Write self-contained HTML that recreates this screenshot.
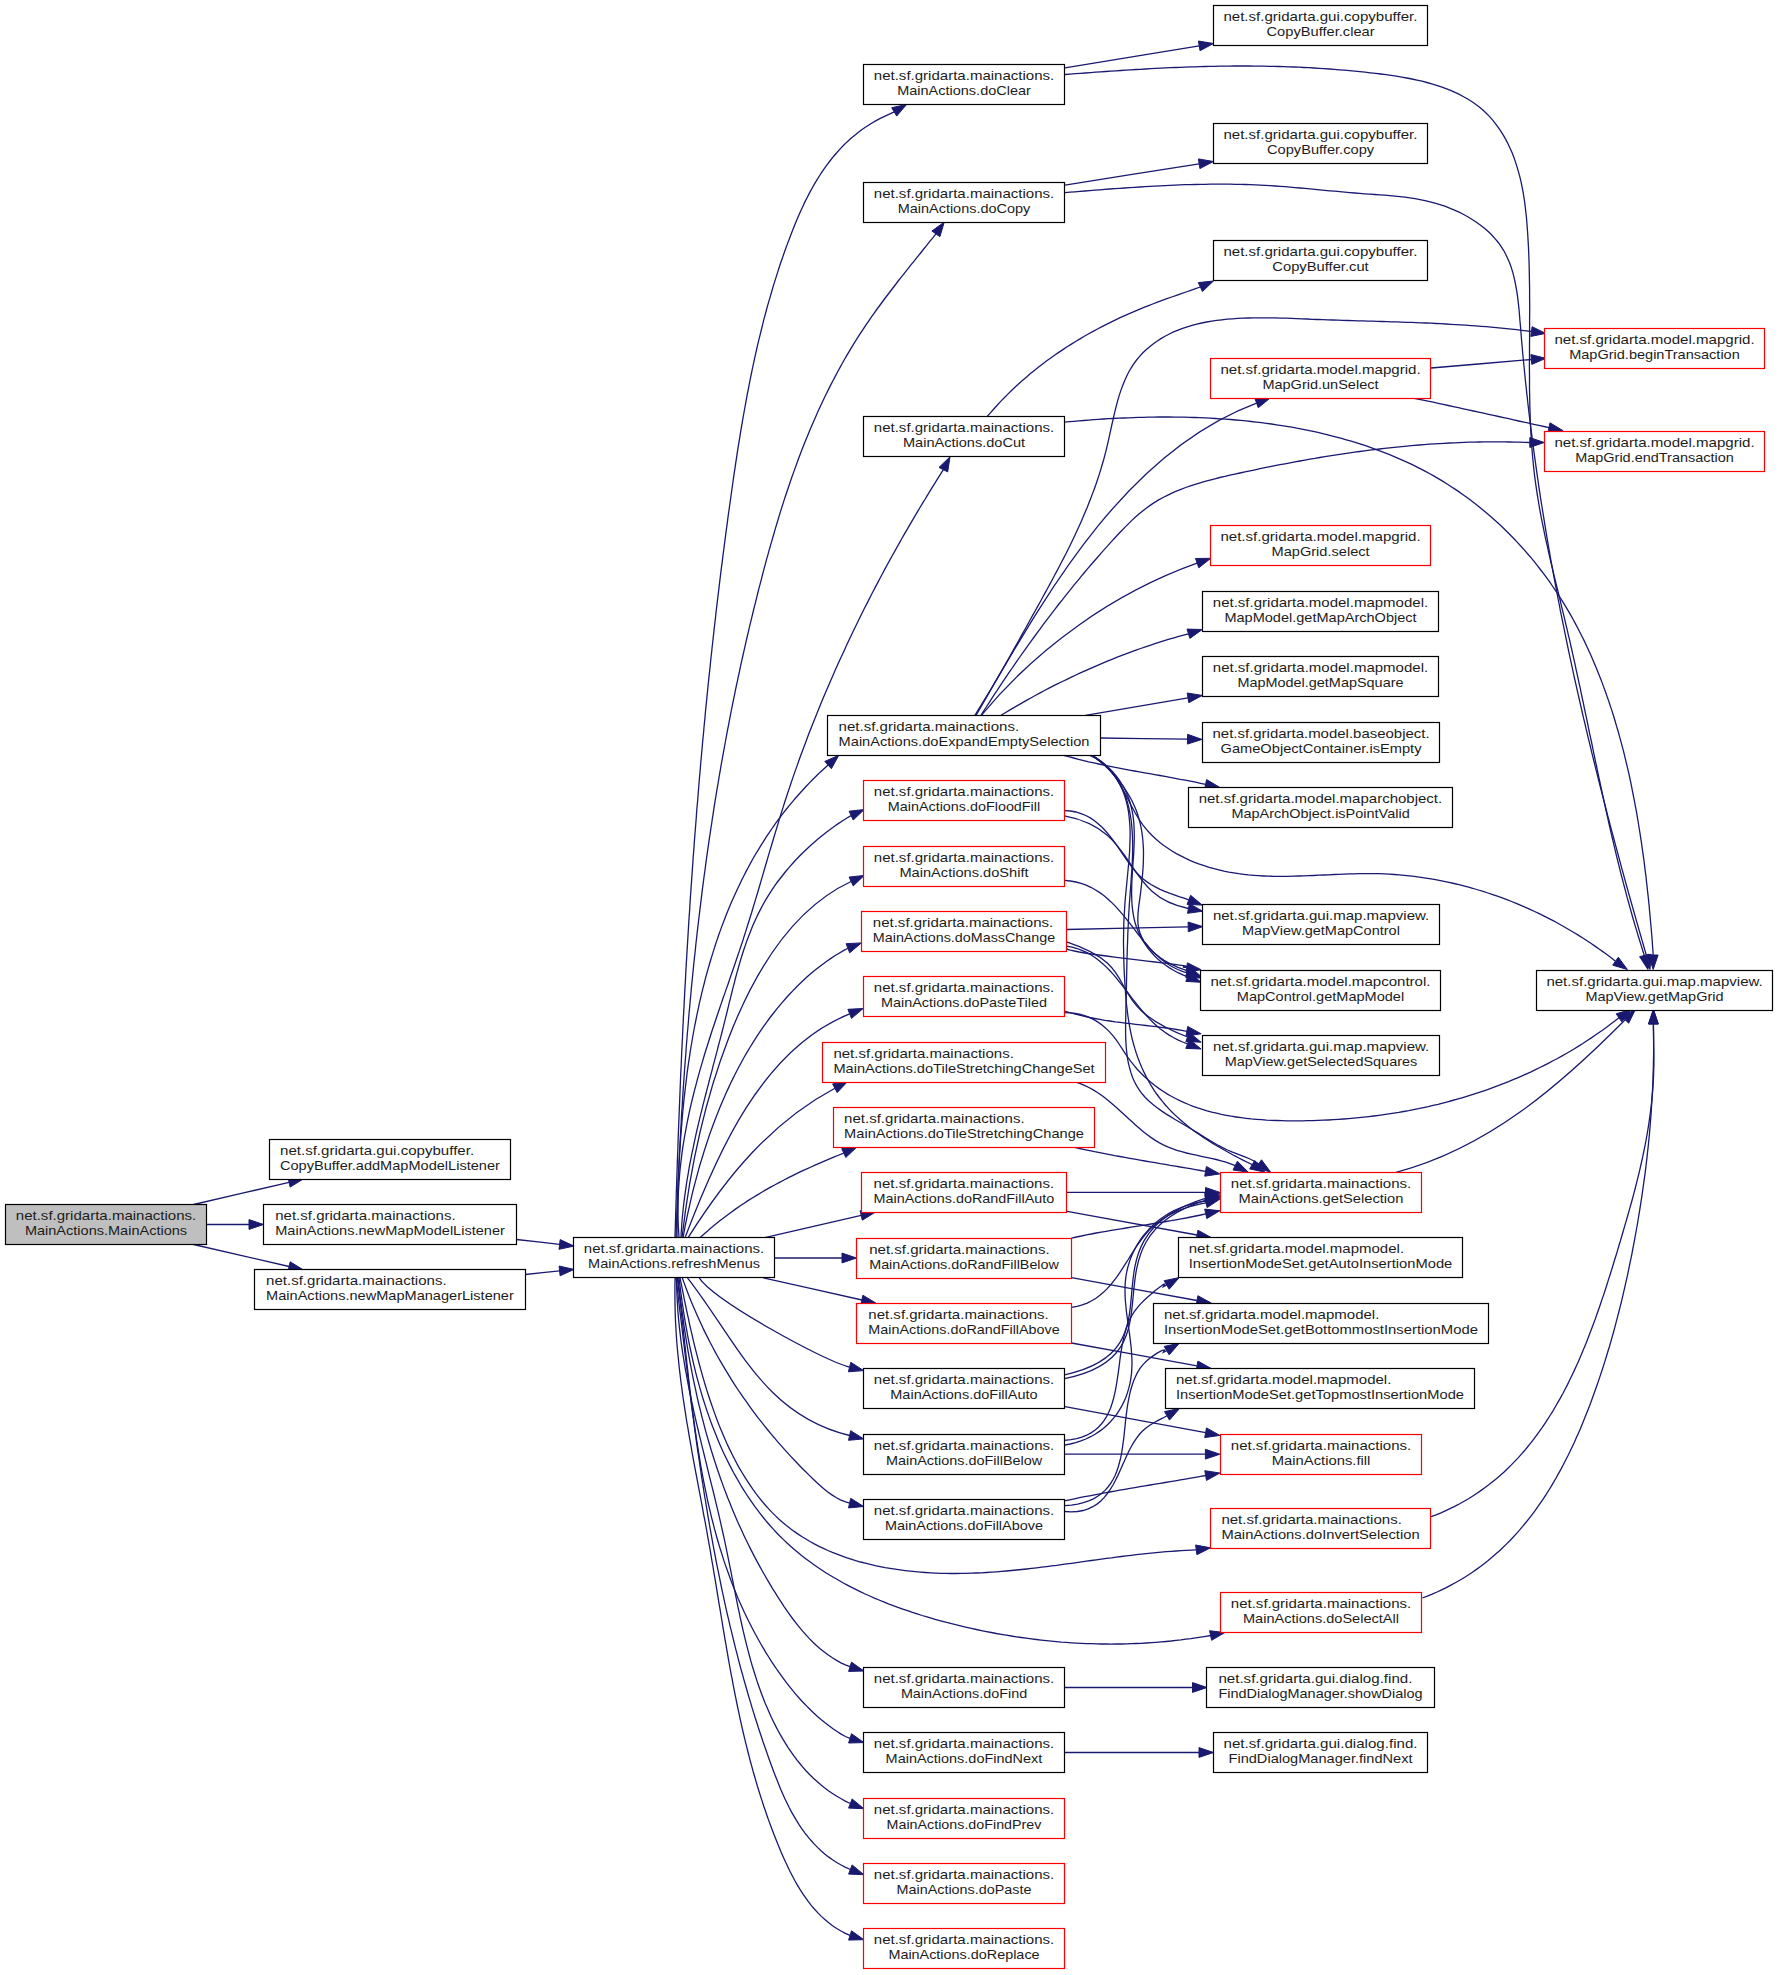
<!DOCTYPE html>
<html><head><meta charset="utf-8"><style>
html,body{margin:0;padding:0;background:#fff;}
svg{display:block;}
text{font-family:"Liberation Sans",sans-serif;font-size:13.6px;fill:#1c1c1c;}
</style></head><body>
<svg width="1779" height="1975" viewBox="0 0 1779 1975">
<g fill="none" stroke="#191970" stroke-width="1.3"><path d="M193.6,1204.5 C225.4,1197.1 257.3,1189.7 289.1,1182.3"/><path d="M206.5,1224.5 C220.7,1224.5 234.8,1224.5 249.0,1224.5"/><path d="M193.6,1244.5 C225.4,1251.8 257.2,1259.2 289.1,1266.5"/><path d="M516.5,1239.5 C530.9,1241.1 545.2,1242.8 559.6,1244.4"/><path d="M525.5,1274.5 C536.9,1273.3 548.2,1272.1 559.6,1270.9"/><path d="M675.0,1237.8 675.1,1232.8 675.3,1227.8 675.4,1222.7 675.6,1217.7 675.7,1212.7 675.9,1207.7 676.0,1202.7 676.2,1197.6 676.3,1192.6 676.5,1187.6 676.7,1182.6 676.8,1177.6 677.0,1172.5 677.2,1167.5 677.3,1162.5 677.5,1157.5 677.7,1152.5 677.9,1147.5 678.0,1142.4 678.2,1137.4 678.4,1132.4 678.6,1127.4 678.8,1122.4 679.0,1117.4 679.2,1112.4 679.4,1107.3 679.6,1102.3 679.8,1097.3 680.0,1092.3 680.2,1087.3 680.4,1082.3 680.6,1077.3 680.8,1072.3 681.1,1067.3 681.3,1062.2 681.5,1057.2 681.7,1052.2 682.0,1047.2 682.2,1042.2 682.5,1037.2 682.7,1032.2 682.9,1027.2 683.2,1022.2 683.4,1017.2 683.7,1012.2 684.0,1007.2 684.2,1002.2 684.5,997.2 684.7,992.1 685.0,987.1 685.3,982.1 685.6,977.1 685.8,972.1 686.1,967.1 686.4,962.1 686.7,957.1 687.0,952.1 687.3,947.1 687.6,942.1 687.9,937.1 688.2,932.1 688.5,927.1 688.8,922.1 689.1,917.1 689.5,912.1 689.8,907.1 690.1,902.1 690.4,897.1 690.8,892.1 691.1,887.1 691.5,882.1 691.8,877.1 692.2,872.1 692.5,867.1 692.9,862.1 693.2,857.1 693.6,852.1 694.0,847.1 694.3,842.2 694.7,837.2 695.1,832.2 695.5,827.2 695.9,822.2 696.3,817.2 696.6,812.2 697.0,807.2 697.5,802.2 697.9,797.2 698.3,792.2 698.7,787.2 699.1,782.2 699.5,777.2 700.0,772.2 700.4,767.2 700.8,762.3 701.3,757.3 701.7,752.3 702.2,747.3 702.6,742.3 703.1,737.3 703.6,732.3 704.0,727.3 704.5,722.3 705.0,717.3 705.4,712.4 705.9,707.4 706.4,702.4 706.9,697.4 707.4,692.4 707.9,687.4 708.4,682.4 708.9,677.4 709.5,672.4 710.0,667.5 710.5,662.5 711.0,657.5 711.6,652.5 712.1,647.5 712.7,642.5 713.2,637.5 713.8,632.6 714.3,627.6 714.9,622.6 715.5,617.6 716.0,612.6 716.6,607.6 717.2,602.6 717.8,597.7 718.4,592.7 719.0,587.7 719.6,582.7 720.2,577.7 720.8,572.7 721.4,567.7 722.1,562.8 722.7,557.8 723.3,552.8 724.0,547.8 724.6,542.8 725.3,537.8 725.9,532.9 726.6,527.9 727.3,522.9 727.9,517.9 728.6,512.9 729.3,508.0 730.0,503.0 730.7,498.0 731.4,493.0 732.1,488.0 732.8,483.0 733.5,478.1 734.2,473.1 735.0,468.1 735.7,463.1 736.5,458.2 737.2,453.2 738.0,448.2 738.8,443.2 739.6,438.3 740.4,433.3 741.2,428.4 742.1,423.4 742.9,418.4 743.8,413.5 744.7,408.5 745.6,403.6 746.5,398.6 747.4,393.7 748.4,388.8 749.3,383.8 750.3,378.9 751.3,374.0 752.3,369.1 753.4,364.2 754.4,359.3 755.5,354.4 756.6,349.5 757.7,344.6 758.9,339.7 760.1,334.8 761.3,330.0 762.5,325.1 763.7,320.2 765.0,315.4 766.3,310.5 767.6,305.7 769.0,300.9 770.4,296.1 771.8,291.2 773.2,286.4 774.7,281.6 776.2,276.9 777.7,272.1 779.2,267.3 780.8,262.5 782.5,257.8 784.1,253.0 785.8,248.3 787.5,243.6 789.3,238.9 791.1,234.2 792.9,229.5 794.8,224.8 796.7,220.2 798.7,215.6 800.7,211.0 802.8,206.4 804.9,201.9 807.2,197.5 809.4,193.1 811.8,188.7 814.2,184.4 816.8,180.2 819.4,176.0 822.0,171.9 824.8,167.8 827.7,163.9 830.7,160.0 833.7,156.2 836.9,152.5 840.2,148.9 843.6,145.3 847.1,141.9 850.7,138.6 854.5,135.4 858.4,132.3 862.4,129.3 866.5,126.5 870.8,123.7 875.2,121.1 879.8,118.7 884.5,116.3 889.4,114.1 894.2,111.9"/><path d="M676.0,1237.8 676.2,1232.8 676.3,1227.8 676.5,1222.8 676.7,1217.8 676.9,1212.7 677.1,1207.7 677.3,1202.7 677.5,1197.7 677.7,1192.7 677.9,1187.7 678.1,1182.7 678.3,1177.7 678.5,1172.7 678.8,1167.7 679.0,1162.7 679.3,1157.7 679.5,1152.7 679.8,1147.7 680.0,1142.7 680.3,1137.6 680.6,1132.6 680.9,1127.6 681.2,1122.6 681.4,1117.6 681.7,1112.6 682.1,1107.6 682.4,1102.6 682.7,1097.6 683.0,1092.6 683.3,1087.6 683.7,1082.6 684.0,1077.6 684.4,1072.7 684.7,1067.7 685.1,1062.7 685.5,1057.7 685.9,1052.7 686.2,1047.7 686.6,1042.7 687.0,1037.7 687.4,1032.7 687.9,1027.7 688.3,1022.7 688.7,1017.7 689.1,1012.8 689.6,1007.8 690.0,1002.8 690.5,997.8 691.0,992.8 691.4,987.8 691.9,982.9 692.4,977.9 692.9,972.9 693.4,967.9 693.9,962.9 694.4,958.0 695.0,953.0 695.5,948.0 696.0,943.0 696.6,938.1 697.1,933.1 697.7,928.1 698.3,923.1 698.9,918.2 699.5,913.2 700.1,908.2 700.7,903.3 701.3,898.3 701.9,893.3 702.5,888.4 703.2,883.4 703.8,878.5 704.5,873.5 705.2,868.5 705.8,863.6 706.5,858.6 707.2,853.7 707.9,848.7 708.6,843.8 709.3,838.8 710.1,833.9 710.8,828.9 711.6,824.0 712.3,819.0 713.1,814.1 713.8,809.1 714.6,804.2 715.4,799.2 716.2,794.3 717.0,789.4 717.9,784.4 718.7,779.5 719.5,774.6 720.4,769.6 721.2,764.7 722.1,759.8 723.0,754.8 723.9,749.9 724.8,745.0 725.7,740.0 726.6,735.1 727.5,730.2 728.5,725.3 729.4,720.4 730.4,715.4 731.3,710.5 732.3,705.6 733.3,700.7 734.3,695.8 735.3,690.9 736.3,686.0 737.4,681.1 738.4,676.2 739.5,671.3 740.5,666.3 741.6,661.4 742.7,656.5 743.8,651.7 744.9,646.8 746.0,641.9 747.1,637.0 748.3,632.1 749.4,627.2 750.6,622.3 751.8,617.4 753.0,612.5 754.1,607.7 755.4,602.8 756.6,597.9 757.8,593.0 759.0,588.1 760.3,583.3 761.6,578.4 762.8,573.5 764.1,568.7 765.4,563.8 766.7,558.9 768.1,554.1 769.4,549.2 770.8,544.4 772.2,539.6 773.6,534.7 775.0,529.9 776.4,525.1 777.9,520.3 779.3,515.4 780.8,510.6 782.3,505.9 783.8,501.1 785.4,496.3 787.0,491.5 788.6,486.8 790.2,482.0 791.8,477.3 793.5,472.6 795.2,467.9 796.9,463.2 798.6,458.5 800.4,453.8 802.2,449.1 804.0,444.5 805.9,439.8 807.8,435.2 809.7,430.6 811.6,426.0 813.6,421.4 815.6,416.9 817.6,412.3 819.7,407.8 821.8,403.3 823.9,398.8 826.1,394.3 828.3,389.9 830.5,385.4 832.8,381.0 835.1,376.6 837.4,372.2 839.8,367.9 842.2,363.5 844.6,359.2 847.1,354.9 849.7,350.6 852.2,346.4 854.8,342.1 857.5,337.9 860.2,333.7 862.9,329.6 865.7,325.4 868.5,321.3 871.3,317.2 874.2,313.1 877.1,309.0 880.1,305.0 883.0,301.0 886.0,297.0 889.1,293.0 892.1,289.0 895.2,285.0 898.2,281.0 901.3,277.1 904.5,273.1 907.6,269.2 910.7,265.2 913.9,261.3 917.0,257.4 920.2,253.5 923.3,249.5 926.5,245.6 929.6,241.7 932.8,237.8 935.9,233.8"/><path d="M679.0,1237.8 678.7,1232.7 678.4,1227.6 678.2,1222.5 678.0,1217.4 678.0,1212.3 678.0,1207.2 678.1,1202.2 678.2,1197.1 678.4,1192.1 678.7,1187.1 679.0,1182.1 679.4,1177.1 679.8,1172.1 680.3,1167.1 680.9,1162.2 681.5,1157.2 682.1,1152.3 682.8,1147.3 683.6,1142.4 684.4,1137.5 685.3,1132.6 686.2,1127.7 687.1,1122.8 688.1,1118.0 689.1,1113.1 690.2,1108.2 691.3,1103.4 692.5,1098.5 693.7,1093.7 694.9,1088.9 696.2,1084.1 697.4,1079.3 698.8,1074.4 700.1,1069.7 701.5,1064.9 702.9,1060.1 704.3,1055.3 705.8,1050.5 707.3,1045.8 708.8,1041.0 710.3,1036.2 711.8,1031.5 713.4,1026.7 715.0,1022.0 716.6,1017.3 718.2,1012.5 719.8,1007.8 721.4,1003.1 723.0,998.3 724.7,993.6 726.3,988.9 728.0,984.2 729.6,979.5 731.2,974.7 732.9,970.0 734.5,965.3 736.1,960.5 737.7,955.8 739.3,951.1 740.9,946.3 742.5,941.6 744.0,936.8 745.5,932.1 747.0,927.3 748.5,922.5 750.0,917.7 751.5,913.0 752.9,908.2 754.4,903.4 755.8,898.6 757.3,893.8 758.7,889.0 760.1,884.2 761.5,879.4 762.9,874.6 764.3,869.8 765.7,865.0 767.1,860.2 768.5,855.4 769.9,850.6 771.4,845.8 772.8,841.0 774.2,836.2 775.7,831.4 777.1,826.7 778.6,821.9 780.0,817.1 781.5,812.3 783.0,807.6 784.5,802.8 786.1,798.0 787.6,793.3 789.2,788.6 790.8,783.8 792.4,779.1 794.0,774.4 795.7,769.6 797.4,764.9 799.0,760.2 800.7,755.5 802.5,750.8 804.2,746.2 806.0,741.5 807.7,736.8 809.5,732.1 811.3,727.5 813.2,722.8 815.0,718.2 816.9,713.6 818.7,708.9 820.6,704.3 822.5,699.7 824.5,695.1 826.4,690.5 828.4,685.9 830.4,681.3 832.4,676.7 834.4,672.1 836.4,667.6 838.4,663.0 840.5,658.5 842.6,653.9 844.7,649.4 846.8,644.8 848.9,640.3 851.1,635.8 853.2,631.3 855.4,626.8 857.6,622.3 859.8,617.8 862.0,613.3 864.2,608.8 866.5,604.4 868.8,599.9 871.0,595.5 873.3,591.0 875.6,586.6 878.0,582.1 880.3,577.7 882.7,573.3 885.0,568.9 887.4,564.5 889.8,560.1 892.2,555.7 894.7,551.4 897.1,547.0 899.6,542.6 902.0,538.3 904.5,533.9 907.0,529.6 909.5,525.3 912.1,520.9 914.6,516.6 917.1,512.3 919.7,508.0 922.3,503.7 924.9,499.5 927.5,495.2 930.1,490.9 932.7,486.7 935.4,482.4 938.0,478.2 940.7,473.9 943.4,469.7"/><path d="M677.0,1237.8 677.0,1233.0 677.1,1228.1 677.2,1223.3 677.3,1218.4 677.4,1213.5 677.5,1208.6 677.6,1203.7 677.7,1198.7 677.9,1193.8 678.0,1188.9 678.2,1183.9 678.4,1178.9 678.6,1173.9 678.8,1168.9 679.1,1163.9 679.4,1158.9 679.6,1153.9 679.9,1148.9 680.3,1143.9 680.6,1138.8 681.0,1133.8 681.4,1128.8 681.8,1123.7 682.2,1118.7 682.6,1113.6 683.1,1108.6 683.6,1103.5 684.1,1098.5 684.7,1093.4 685.3,1088.4 685.9,1083.3 686.5,1078.3 687.1,1073.2 687.8,1068.2 688.5,1063.1 689.3,1058.1 690.0,1053.1 690.8,1048.0 691.7,1043.0 692.5,1038.0 693.4,1033.0 694.3,1028.0 695.3,1023.0 696.3,1018.0 697.3,1013.1 698.4,1008.1 699.4,1003.2 700.6,998.2 701.7,993.3 702.9,988.4 704.2,983.5 705.4,978.6 706.7,973.7 708.1,968.9 709.5,964.0 710.9,959.2 712.4,954.4 713.9,949.6 715.4,944.8 717.0,940.1 718.6,935.3 720.3,930.6 722.0,925.9 723.8,921.2 725.6,916.6 727.4,912.0 729.3,907.3 731.2,902.8 733.2,898.2 735.3,893.7 737.3,889.2 739.5,884.7 741.6,880.2 743.9,875.8 746.1,871.4 748.5,867.0 750.8,862.6 753.2,858.3 755.7,854.0 758.3,849.8 760.8,845.6 763.5,841.4 766.1,837.2 768.9,833.1 771.7,829.0 774.5,824.9 777.4,820.9 780.4,816.9 783.4,812.9 786.5,809.0 789.6,805.1 792.8,801.3 796.1,797.5 799.4,793.7 802.8,790.0 806.2,786.3 809.7,782.6 813.2,779.0 816.8,775.5 820.5,771.9 824.3,768.5 828.1,765.0"/><path d="M681.0,1237.8 681.2,1232.8 681.6,1227.7 681.9,1222.7 682.3,1217.7 682.8,1212.7 683.3,1207.7 683.9,1202.7 684.5,1197.8 685.2,1192.8 685.9,1187.9 686.6,1182.9 687.4,1178.0 688.3,1173.1 689.1,1168.2 690.0,1163.2 691.0,1158.3 691.9,1153.4 693.0,1148.6 694.0,1143.7 695.0,1138.8 696.1,1133.9 697.2,1129.0 698.4,1124.2 699.5,1119.3 700.7,1114.4 701.9,1109.6 703.1,1104.7 704.3,1099.9 705.6,1095.0 706.8,1090.2 708.1,1085.3 709.3,1080.5 710.6,1075.6 711.9,1070.8 713.1,1065.9 714.4,1061.1 715.7,1056.2 717.0,1051.4 718.2,1046.5 719.5,1041.7 720.8,1036.8 722.0,1032.0 723.3,1027.1 724.5,1022.2 725.7,1017.4 726.9,1012.5 728.1,1007.6 729.3,1002.7 730.5,997.9 731.7,993.0 732.9,988.2 734.2,983.3 735.4,978.5 736.7,973.6 738.1,968.8 739.4,964.1 740.8,959.3 742.3,954.5 743.8,949.8 745.4,945.1 747.0,940.4 748.8,935.8 750.6,931.2 752.4,926.6 754.4,922.0 756.5,917.5 758.6,913.1 760.9,908.6 763.2,904.2 765.7,899.9 768.3,895.6 771.0,891.4 773.8,887.2 776.7,883.0 779.8,879.0 782.9,875.0 786.1,871.0 789.4,867.1 792.8,863.3 796.2,859.5 799.8,855.8 803.4,852.2 807.1,848.7 810.8,845.2 814.6,841.9 818.5,838.6 822.4,835.4 826.4,832.2 830.4,829.2 834.5,826.3 838.6,823.4 842.7,820.7 846.9,818.0 851.1,815.6"/><path d="M682.0,1237.8 C694.6,1127.8 737.3,934.3 851.1,881.5"/><path d="M683.0,1237.8 683.9,1233.0 684.8,1228.2 685.7,1223.4 686.7,1218.6 687.7,1213.8 688.8,1209.0 689.9,1204.1 691.0,1199.2 692.1,1194.4 693.3,1189.5 694.6,1184.6 695.9,1179.7 697.2,1174.8 698.5,1169.9 699.9,1165.0 701.4,1160.1 702.9,1155.2 704.4,1150.4 706.0,1145.5 707.6,1140.6 709.2,1135.8 710.9,1130.9 712.7,1126.1 714.5,1121.3 716.3,1116.5 718.2,1111.7 720.1,1107.0 722.1,1102.2 724.2,1097.5 726.2,1092.8 728.4,1088.1 730.5,1083.5 732.8,1078.9 735.1,1074.3 737.4,1069.7 739.8,1065.2 742.2,1060.7 744.7,1056.3 747.3,1051.8 749.9,1047.5 752.6,1043.1 755.3,1038.8 758.0,1034.6 760.9,1030.4 763.8,1026.2 766.7,1022.1 769.7,1018.0 772.8,1014.0 775.9,1010.1 779.1,1006.2 782.3,1002.3 785.7,998.5 789.0,994.8 792.5,991.1 796.0,987.5 799.5,984.0 803.2,980.5 806.9,977.1 810.6,973.8 814.5,970.6 818.4,967.5 822.4,964.4 826.4,961.5 830.6,958.6 834.8,955.8 839.1,953.2 843.4,950.6 847.9,948.2"/><path d="M685.0,1237.8 C716.1,1155.5 761.5,1048.9 849.7,1013.9"/><path d="M688.0,1237.8 C726.1,1177.4 770.5,1122.6 834.9,1088.2"/><path d="M700.0,1237.8 703.8,1234.3 707.6,1230.9 711.5,1227.6 715.5,1224.3 719.4,1221.1 723.5,1217.9 727.5,1214.9 731.6,1211.9 735.8,1208.9 739.9,1206.0 744.1,1203.2 748.4,1200.4 752.7,1197.7 757.0,1195.1 761.3,1192.5 765.7,1189.9 770.1,1187.4 774.6,1185.0 779.0,1182.6 783.5,1180.2 788.0,1177.9 792.6,1175.6 797.1,1173.4 801.7,1171.2 806.3,1169.1 811.0,1167.0 815.6,1164.9 820.3,1162.8 824.9,1160.8 829.6,1158.8 834.3,1156.9 839.0,1155.0 843.7,1153.1"/><path d="M763.7,1237.8 C796.2,1230.3 828.7,1222.9 861.2,1215.4"/><path d="M774.5,1258.0 C797.0,1258.0 819.5,1258.0 842.0,1258.0"/><path d="M763.3,1277.8 C796.2,1285.2 829.0,1292.6 861.9,1300.0"/><path d="M699.2,1277.8 C714.7,1300.9 822.3,1360.2 849.6,1367.1"/><path d="M687.5,1277.8 C737.3,1341.6 763.5,1414.8 849.6,1435.5"/><path d="M682.3,1277.8 684.0,1282.6 685.8,1287.5 687.6,1292.2 689.4,1297.0 691.3,1301.7 693.3,1306.4 695.3,1311.1 697.3,1315.7 699.4,1320.3 701.5,1324.8 703.6,1329.4 705.8,1333.9 708.1,1338.4 710.3,1342.8 712.7,1347.3 715.0,1351.6 717.4,1356.0 719.9,1360.4 722.4,1364.7 724.9,1368.9 727.5,1373.2 730.1,1377.4 732.7,1381.6 735.4,1385.8 738.2,1390.0 741.0,1394.1 743.8,1398.2 746.7,1402.2 749.6,1406.3 752.5,1410.3 755.5,1414.3 758.5,1418.3 761.6,1422.2 764.7,1426.1 767.8,1430.0 771.0,1433.9 774.3,1437.7 777.5,1441.6 780.9,1445.4 784.2,1449.1 787.6,1452.9 791.0,1456.6 794.5,1460.3 798.0,1464.0 801.6,1467.7 805.2,1471.3 808.8,1474.9 812.5,1478.5 816.2,1482.0 820.0,1485.5 823.8,1488.8 827.8,1492.0 831.9,1494.9 836.0,1497.5 840.4,1499.8 844.9,1501.7 849.6,1503.1"/><path d="M680.0,1277.8 680.9,1282.2 681.8,1286.6 682.7,1291.1 683.6,1295.7 684.5,1300.3 685.5,1305.0 686.5,1309.8 687.5,1314.6 688.6,1319.4 689.6,1324.3 690.7,1329.2 691.9,1334.2 693.0,1339.2 694.2,1344.2 695.5,1349.3 696.8,1354.3 698.1,1359.4 699.4,1364.5 700.8,1369.6 702.2,1374.7 703.7,1379.9 705.2,1385.0 706.8,1390.1 708.4,1395.2 710.1,1400.3 711.8,1405.3 713.6,1410.4 715.4,1415.4 717.3,1420.4 719.2,1425.4 721.2,1430.3 723.3,1435.2 725.4,1440.1 727.5,1444.9 729.8,1449.6 732.1,1454.3 734.5,1459.0 736.9,1463.6 739.4,1468.1 742.0,1472.5 744.7,1476.9 747.4,1481.2 750.2,1485.4 753.1,1489.6 756.0,1493.6 759.1,1497.6 762.2,1501.5 765.4,1505.2 768.7,1508.9 772.0,1512.4 775.5,1515.9 779.0,1519.2 782.7,1522.4 786.4,1525.5 790.2,1528.5 794.1,1531.4 798.1,1534.1 802.1,1536.8 806.3,1539.3 810.4,1541.8 814.7,1544.1 819.0,1546.3 823.4,1548.4 827.9,1550.5 832.4,1552.4 837.0,1554.2 841.6,1555.9 846.3,1557.6 851.0,1559.1 855.7,1560.6 860.5,1562.0 865.4,1563.2 870.3,1564.4 875.2,1565.6 880.1,1566.6 885.1,1567.6 890.1,1568.4 895.1,1569.2 900.1,1569.9 905.2,1570.6 910.2,1571.2 915.3,1571.7 920.4,1572.1 925.5,1572.5 930.6,1572.8 935.7,1573.1 940.8,1573.3 945.9,1573.4 951.0,1573.5 956.1,1573.5 961.1,1573.4 966.2,1573.3 971.3,1573.2 976.3,1573.0 981.4,1572.8 986.4,1572.5 991.4,1572.2 996.5,1571.8 1001.5,1571.4 1006.5,1571.0 1011.5,1570.5 1016.6,1570.0 1021.6,1569.5 1026.6,1569.0 1031.6,1568.4 1036.6,1567.8 1041.6,1567.2 1046.6,1566.6 1051.6,1565.9 1056.6,1565.3 1061.5,1564.6 1066.5,1563.9 1071.5,1563.3 1076.5,1562.6 1081.5,1561.9 1086.5,1561.2 1091.4,1560.5 1096.4,1559.8 1101.4,1559.1 1106.4,1558.4 1111.4,1557.8 1116.3,1557.1 1121.3,1556.5 1126.3,1555.9 1131.3,1555.3 1136.3,1554.7 1141.3,1554.1 1146.2,1553.6 1151.2,1553.1 1156.2,1552.6 1161.2,1552.1 1166.2,1551.7 1171.2,1551.3 1176.2,1551.0 1181.2,1550.7 1186.2,1550.4 1191.2,1550.1 1196.2,1549.8"/><path d="M679.0,1277.8 679.6,1282.6 680.2,1287.4 680.8,1292.3 681.5,1297.2 682.1,1302.1 682.9,1307.0 683.6,1312.0 684.4,1317.0 685.2,1321.9 686.1,1326.9 687.0,1331.9 687.9,1337.0 688.9,1342.0 689.9,1347.0 691.0,1352.0 692.1,1357.1 693.2,1362.1 694.4,1367.1 695.6,1372.1 696.9,1377.1 698.3,1382.1 699.6,1387.1 701.1,1392.1 702.5,1397.0 704.1,1402.0 705.7,1406.9 707.3,1411.8 709.0,1416.6 710.7,1421.5 712.5,1426.3 714.4,1431.0 716.3,1435.8 718.2,1440.5 720.2,1445.2 722.3,1449.9 724.4,1454.5 726.6,1459.0 728.9,1463.6 731.2,1468.1 733.5,1472.5 736.0,1476.9 738.5,1481.3 741.0,1485.6 743.6,1489.8 746.3,1494.0 749.0,1498.1 751.8,1502.2 754.7,1506.3 757.6,1510.2 760.6,1514.1 763.7,1518.0 766.8,1521.8 770.0,1525.5 773.3,1529.1 776.6,1532.7 780.0,1536.2 783.5,1539.6 787.0,1543.0 790.6,1546.3 794.3,1549.5 798.0,1552.6 801.8,1555.7 805.7,1558.7 809.6,1561.6 813.6,1564.5 817.6,1567.3 821.7,1570.0 825.8,1572.7 830.0,1575.3 834.3,1577.8 838.6,1580.3 842.9,1582.7 847.3,1585.1 851.7,1587.4 856.2,1589.6 860.7,1591.8 865.2,1594.0 869.8,1596.0 874.4,1598.1 879.0,1600.0 883.7,1601.9 888.4,1603.8 893.2,1605.6 897.9,1607.4 902.7,1609.1 907.5,1610.7 912.4,1612.4 917.2,1613.9 922.1,1615.5 927.0,1616.9 931.9,1618.4 936.8,1619.8 941.7,1621.1 946.7,1622.4 951.6,1623.7 956.6,1624.9 961.5,1626.1 966.5,1627.3 971.5,1628.4 976.4,1629.5 981.4,1630.6 986.4,1631.6 991.4,1632.5 996.3,1633.5 1001.3,1634.4 1006.3,1635.2 1011.3,1636.0 1016.3,1636.8 1021.3,1637.5 1026.3,1638.2 1031.3,1638.9 1036.3,1639.5 1041.3,1640.1 1046.3,1640.7 1051.3,1641.2 1056.3,1641.6 1061.3,1642.1 1066.3,1642.4 1071.3,1642.8 1076.3,1643.1 1081.3,1643.3 1086.3,1643.6 1091.3,1643.7 1096.3,1643.9 1101.3,1644.0 1106.3,1644.0 1111.3,1644.1 1116.3,1644.0 1121.3,1644.0 1126.3,1643.9 1131.3,1643.7 1136.3,1643.5 1141.2,1643.3 1146.2,1643.0 1151.2,1642.7 1156.2,1642.3 1161.1,1641.9 1166.1,1641.5 1171.1,1641.0 1176.0,1640.4 1181.0,1639.9 1185.9,1639.2 1190.9,1638.6 1195.8,1637.9 1200.7,1637.1 1205.7,1636.3 1210.6,1635.5"/><path d="M678.0,1277.8 678.6,1282.9 679.1,1288.0 679.7,1293.0 680.3,1298.1 681.0,1303.1 681.6,1308.2 682.3,1313.2 683.0,1318.2 683.7,1323.3 684.4,1328.3 685.2,1333.3 686.0,1338.3 686.8,1343.3 687.6,1348.3 688.4,1353.2 689.3,1358.2 690.2,1363.2 691.2,1368.1 692.1,1373.0 693.1,1378.0 694.1,1382.9 695.2,1387.8 696.2,1392.7 697.3,1397.6 698.4,1402.5 699.6,1407.4 700.8,1412.2 702.0,1417.1 703.3,1421.9 704.5,1426.7 705.8,1431.6 707.2,1436.4 708.6,1441.2 710.0,1446.0 711.4,1450.8 712.9,1455.5 714.4,1460.3 716.0,1465.0 717.5,1469.8 719.2,1474.5 720.8,1479.2 722.5,1483.9 724.2,1488.6 726.0,1493.3 727.8,1498.0 729.7,1502.6 731.5,1507.3 733.5,1511.9 735.4,1516.5 737.4,1521.2 739.5,1525.8 741.6,1530.3 743.7,1534.9 745.9,1539.5 748.1,1544.0 750.4,1548.6 752.7,1553.1 755.0,1557.6 757.4,1562.1 759.9,1566.6 762.3,1571.0 764.9,1575.5 767.4,1579.9 770.1,1584.4 772.7,1588.8 775.5,1593.2 778.2,1597.6 781.1,1601.9 783.9,1606.3 786.9,1610.6 789.9,1614.8 792.9,1619.0 796.1,1623.1 799.3,1627.2 802.6,1631.1 806.0,1634.9 809.4,1638.6 813.0,1642.2 816.7,1645.7 820.4,1649.0 824.3,1652.1 828.3,1655.0 832.4,1657.8 836.6,1660.4 840.9,1662.8 845.4,1664.9 850.0,1666.7"/><path d="M677.3,1277.8 677.9,1282.8 678.5,1287.8 679.1,1292.9 679.7,1297.9 680.3,1302.9 680.9,1307.9 681.4,1313.0 682.0,1318.0 682.5,1323.0 683.1,1328.1 683.6,1333.1 684.2,1338.2 684.7,1343.2 685.3,1348.3 685.8,1353.3 686.4,1358.3 686.9,1363.4 687.5,1368.4 688.1,1373.5 688.6,1378.5 689.2,1383.5 689.8,1388.6 690.4,1393.6 691.0,1398.6 691.6,1403.7 692.3,1408.7 692.9,1413.7 693.6,1418.7 694.3,1423.7 695.0,1428.7 695.7,1433.7 696.4,1438.7 697.2,1443.7 698.0,1448.7 698.8,1453.7 699.6,1458.6 700.4,1463.6 701.3,1468.6 702.2,1473.5 703.1,1478.4 704.1,1483.4 705.1,1488.3 706.1,1493.2 707.1,1498.1 708.2,1503.0 709.3,1507.9 710.5,1512.8 711.6,1517.6 712.9,1522.5 714.1,1527.3 715.4,1532.2 716.7,1537.0 718.1,1541.8 719.5,1546.6 721.0,1551.3 722.5,1556.1 724.0,1560.9 725.6,1565.6 727.3,1570.3 729.0,1575.0 730.7,1579.7 732.5,1584.4 734.3,1589.1 736.2,1593.7 738.1,1598.4 740.1,1603.0 742.2,1607.6 744.3,1612.2 746.5,1616.7 748.7,1621.3 751.0,1625.8 753.3,1630.3 755.7,1634.8 758.2,1639.3 760.7,1643.8 763.3,1648.2 765.9,1652.6 768.7,1657.0 771.4,1661.4 774.3,1665.7 777.2,1670.0 780.2,1674.2 783.3,1678.4 786.4,1682.6 789.6,1686.7 792.8,1690.7 796.1,1694.6 799.5,1698.5 803.0,1702.3 806.5,1705.9 810.1,1709.5 813.7,1713.0 817.5,1716.4 821.3,1719.7 825.1,1722.8 829.0,1725.8 833.0,1728.7 837.1,1731.5 841.2,1734.1 845.4,1736.5 850.0,1738.3"/><path d="M676.5,1277.8 676.6,1283.0 676.7,1288.1 676.9,1293.2 677.1,1298.3 677.4,1303.3 677.7,1308.4 678.1,1313.4 678.5,1318.4 679.0,1323.4 679.5,1328.4 680.1,1333.4 680.7,1338.3 681.3,1343.3 682.0,1348.2 682.7,1353.1 683.5,1358.0 684.3,1362.9 685.1,1367.8 686.0,1372.7 686.9,1377.5 687.8,1382.4 688.7,1387.2 689.7,1392.1 690.7,1396.9 691.7,1401.7 692.8,1406.5 693.8,1411.3 694.9,1416.1 696.0,1420.9 697.1,1425.7 698.3,1430.5 699.4,1435.3 700.6,1440.1 701.7,1444.9 702.9,1449.7 704.1,1454.5 705.3,1459.3 706.5,1464.1 707.6,1468.9 708.8,1473.8 710.0,1478.6 711.2,1483.4 712.4,1488.2 713.6,1493.0 714.8,1497.9 715.9,1502.7 717.1,1507.6 718.3,1512.4 719.4,1517.3 720.5,1522.2 721.6,1527.1 722.7,1532.0 723.8,1536.9 724.9,1541.8 725.9,1546.8 726.9,1551.7 727.9,1556.7 728.9,1561.7 729.9,1566.7 730.9,1571.6 731.9,1576.6 732.9,1581.6 733.9,1586.6 734.9,1591.6 735.9,1596.6 736.9,1601.6 737.9,1606.6 739.0,1611.6 740.0,1616.6 741.1,1621.5 742.2,1626.5 743.3,1631.4 744.5,1636.4 745.7,1641.3 746.9,1646.2 748.2,1651.1 749.5,1656.0 750.8,1660.8 752.2,1665.7 753.7,1670.5 755.2,1675.3 756.7,1680.1 758.3,1684.8 760.0,1689.5 761.7,1694.2 763.5,1698.9 765.3,1703.5 767.3,1708.1 769.3,1712.7 771.3,1717.2 773.5,1721.7 775.7,1726.1 778.0,1730.5 780.4,1734.9 782.9,1739.2 785.5,1743.4 788.1,1747.6 790.9,1751.7 793.7,1755.7 796.7,1759.7 799.8,1763.5 803.0,1767.3 806.2,1771.0 809.6,1774.5 813.1,1778.0 816.8,1781.3 820.5,1784.6 824.4,1787.7 828.4,1790.7 832.5,1793.5 836.8,1796.3 841.2,1798.8 845.7,1801.3 850.4,1803.5"/><path d="M676.0,1277.8 676.6,1282.8 677.2,1287.7 677.8,1292.7 678.3,1297.7 678.9,1302.6 679.5,1307.6 680.1,1312.6 680.7,1317.5 681.3,1322.5 681.9,1327.5 682.5,1332.5 683.1,1337.4 683.7,1342.4 684.3,1347.4 684.9,1352.4 685.5,1357.3 686.1,1362.3 686.7,1367.3 687.3,1372.2 687.9,1377.2 688.6,1382.2 689.2,1387.2 689.8,1392.1 690.5,1397.1 691.1,1402.1 691.8,1407.1 692.4,1412.0 693.1,1417.0 693.8,1422.0 694.4,1427.0 695.1,1431.9 695.8,1436.9 696.5,1441.9 697.2,1446.8 697.9,1451.8 698.7,1456.8 699.4,1461.7 700.1,1466.7 700.9,1471.7 701.6,1476.6 702.4,1481.6 703.2,1486.6 703.9,1491.5 704.7,1496.5 705.6,1501.4 706.4,1506.4 707.2,1511.4 708.0,1516.3 708.9,1521.3 709.7,1526.2 710.6,1531.2 711.5,1536.1 712.4,1541.1 713.3,1546.0 714.2,1550.9 715.2,1555.9 716.1,1560.8 717.1,1565.8 718.1,1570.7 719.1,1575.6 720.1,1580.6 721.1,1585.5 722.1,1590.4 723.2,1595.3 724.2,1600.2 725.3,1605.2 726.4,1610.1 727.5,1615.0 728.7,1619.9 729.8,1624.8 731.0,1629.7 732.2,1634.6 733.4,1639.5 734.6,1644.4 735.8,1649.3 737.1,1654.2 738.3,1659.1 739.6,1664.0 740.9,1668.9 742.3,1673.7 743.6,1678.6 745.0,1683.5 746.4,1688.3 747.8,1693.2 749.2,1698.1 750.7,1702.9 752.1,1707.8 753.6,1712.6 755.1,1717.5 756.7,1722.3 758.2,1727.2 759.8,1732.0 761.4,1736.8 763.0,1741.7 764.7,1746.5 766.4,1751.3 768.0,1756.1 769.8,1760.9 771.5,1765.7 773.3,1770.5 775.1,1775.3 777.0,1780.1 778.9,1784.8 780.8,1789.5 782.8,1794.1 784.9,1798.7 787.1,1803.2 789.3,1807.7 791.6,1812.1 794.1,1816.4 796.6,1820.6 799.2,1824.8 801.9,1828.8 804.8,1832.8 807.8,1836.6 810.9,1840.3 814.1,1843.9 817.5,1847.4 821.0,1850.7 824.7,1853.9 828.5,1856.9 832.5,1859.8 836.7,1862.5 841.1,1865.0 845.6,1867.4 850.4,1869.5"/><path d="M675.1,1277.8 675.0,1282.9 674.9,1288.0 674.9,1293.0 674.9,1298.1 675.0,1303.2 675.1,1308.2 675.2,1313.2 675.4,1318.3 675.6,1323.3 675.9,1328.3 676.2,1333.3 676.5,1338.3 676.9,1343.3 677.3,1348.3 677.8,1353.3 678.3,1358.3 678.8,1363.2 679.3,1368.2 679.9,1373.1 680.5,1378.1 681.1,1383.0 681.8,1388.0 682.4,1392.9 683.1,1397.9 683.9,1402.8 684.6,1407.7 685.4,1412.6 686.1,1417.6 686.9,1422.5 687.8,1427.4 688.6,1432.3 689.4,1437.2 690.3,1442.1 691.2,1447.0 692.0,1452.0 692.9,1456.9 693.8,1461.8 694.7,1466.7 695.6,1471.6 696.6,1476.5 697.5,1481.4 698.4,1486.3 699.3,1491.2 700.3,1496.1 701.2,1501.0 702.1,1505.9 703.0,1510.8 703.9,1515.8 704.9,1520.7 705.8,1525.6 706.7,1530.5 707.5,1535.4 708.4,1540.4 709.3,1545.3 710.2,1550.2 711.0,1555.2 711.8,1560.1 712.7,1565.0 713.5,1570.0 714.3,1574.9 715.2,1579.9 716.0,1584.8 716.8,1589.8 717.6,1594.7 718.4,1599.7 719.2,1604.6 720.1,1609.6 720.9,1614.5 721.7,1619.5 722.5,1624.4 723.3,1629.4 724.2,1634.4 725.0,1639.3 725.9,1644.3 726.7,1649.2 727.6,1654.2 728.4,1659.1 729.3,1664.0 730.2,1669.0 731.1,1673.9 732.1,1678.9 733.0,1683.8 733.9,1688.7 734.9,1693.7 735.9,1698.6 736.9,1703.5 737.9,1708.4 739.0,1713.4 740.0,1718.3 741.1,1723.2 742.2,1728.1 743.3,1733.0 744.5,1737.9 745.7,1742.8 746.9,1747.6 748.1,1752.5 749.4,1757.4 750.6,1762.3 752.0,1767.1 753.3,1772.0 754.7,1776.8 756.1,1781.6 757.5,1786.5 759.0,1791.3 760.5,1796.1 762.1,1800.9 763.6,1805.7 765.3,1810.5 766.9,1815.3 768.6,1820.1 770.3,1824.8 772.1,1829.6 773.9,1834.3 775.8,1839.1 777.7,1843.8 779.6,1848.5 781.6,1853.2 783.7,1857.9 785.8,1862.6 788.0,1867.2 790.2,1871.8 792.5,1876.3 794.9,1880.8 797.4,1885.1 800.0,1889.4 802.7,1893.6 805.5,1897.7 808.4,1901.7 811.4,1905.6 814.6,1909.3 817.9,1912.9 821.3,1916.4 824.9,1919.6 828.7,1922.8 832.6,1925.7 836.7,1928.5 841.0,1931.0 845.4,1933.4 850.0,1935.4"/><path d="M1065.0,67.8 C1109.7,60.5 1154.5,53.2 1199.2,45.8"/><path d="M1065.0,74.5 1070.1,74.1 1075.3,73.7 1080.4,73.3 1085.5,73.0 1090.6,72.6 1095.6,72.2 1100.7,71.9 1105.7,71.5 1110.8,71.2 1115.8,70.8 1120.8,70.5 1125.8,70.2 1130.8,69.9 1135.8,69.5 1140.7,69.3 1145.7,69.0 1150.6,68.7 1155.6,68.4 1160.5,68.2 1165.5,67.9 1170.4,67.7 1175.3,67.5 1180.2,67.3 1185.2,67.1 1190.1,66.9 1195.0,66.8 1199.9,66.6 1204.8,66.5 1209.7,66.4 1214.6,66.3 1219.5,66.2 1224.5,66.1 1229.4,66.1 1234.3,66.0 1239.2,66.0 1244.1,66.0 1249.1,66.0 1254.0,66.1 1259.0,66.1 1263.9,66.2 1268.9,66.3 1273.8,66.4 1278.8,66.5 1283.8,66.7 1288.8,66.8 1293.8,67.0 1298.8,67.2 1303.8,67.5 1308.8,67.7 1313.9,68.0 1318.9,68.3 1324.0,68.7 1329.1,69.0 1334.2,69.4 1339.3,69.8 1344.4,70.2 1349.6,70.7 1354.7,71.2 1359.9,71.7 1365.1,72.2 1370.3,72.8 1375.6,73.4 1380.8,74.0 1386.0,74.7 1391.2,75.4 1396.4,76.2 1401.6,77.1 1406.8,78.0 1411.9,79.0 1416.9,80.1 1422.0,81.2 1426.9,82.5 1431.8,83.9 1436.6,85.3 1441.3,86.9 1446.0,88.6 1450.6,90.4 1455.0,92.4 1459.4,94.4 1463.6,96.7 1467.7,99.0 1471.7,101.5 1475.6,104.2 1479.3,107.0 1482.9,110.1 1486.3,113.2 1489.6,116.6 1492.7,120.1 1495.6,123.8 1498.4,127.6 1501.1,131.6 1503.6,135.7 1506.0,139.9 1508.2,144.2 1510.2,148.6 1512.2,153.1 1514.0,157.7 1515.6,162.4 1517.1,167.1 1518.5,171.9 1519.8,176.7 1521.0,181.6 1522.0,186.6 1523.0,191.5 1523.8,196.6 1524.6,201.6 1525.2,206.7 1525.8,211.8 1526.4,216.9 1526.8,222.0 1527.2,227.1 1527.6,232.3 1527.9,237.4 1528.2,242.5 1528.5,247.6 1528.7,252.8 1528.9,257.9 1529.1,263.0 1529.2,268.1 1529.3,273.1 1529.4,278.2 1529.5,283.3 1529.6,288.4 1529.6,293.4 1529.6,298.5 1529.7,303.5 1529.7,308.6 1529.7,313.6 1529.6,318.6 1529.6,323.7 1529.6,328.7 1529.6,333.7 1529.6,338.7 1529.5,343.7 1529.5,348.7 1529.5,353.7 1529.5,358.7 1529.4,363.7 1529.4,368.7 1529.5,373.7 1529.5,378.6 1529.5,383.6 1529.5,388.6 1529.6,393.5 1529.7,398.5 1529.8,403.4 1529.9,408.4 1530.1,413.3 1530.2,418.3 1530.4,423.2 1530.7,428.2 1530.9,433.1 1531.2,438.0 1531.5,443.0 1531.9,447.9 1532.3,452.8 1532.7,457.8 1533.2,462.7 1533.7,467.6 1534.2,472.5 1534.8,477.4 1535.5,482.4 1536.2,487.3 1536.9,492.2 1537.7,497.1 1538.5,502.0 1539.3,506.9 1540.2,511.8 1541.1,516.7 1542.1,521.6 1543.1,526.5 1544.1,531.4 1545.1,536.3 1546.2,541.3 1547.3,546.2 1548.4,551.1 1549.5,556.0 1550.6,560.9 1551.8,565.8 1552.9,570.7 1554.1,575.6 1555.3,580.5 1556.5,585.4 1557.7,590.2 1558.9,595.1 1560.1,600.0 1561.2,604.9 1562.4,609.8 1563.6,614.7 1564.8,619.6 1565.9,624.5 1567.1,629.4 1568.2,634.3 1569.4,639.2 1570.5,644.1 1571.6,649.0 1572.7,653.9 1573.8,658.8 1574.9,663.7 1575.9,668.6 1577.0,673.5 1578.1,678.4 1579.1,683.3 1580.2,688.2 1581.2,693.1 1582.2,698.0 1583.3,702.9 1584.3,707.8 1585.3,712.7 1586.4,717.6 1587.4,722.5 1588.4,727.4 1589.4,732.3 1590.4,737.1 1591.5,742.0 1592.5,746.9 1593.5,751.8 1594.5,756.7 1595.5,761.6 1596.6,766.5 1597.6,771.3 1598.6,776.2 1599.7,781.1 1600.7,786.0 1601.8,790.9 1602.8,795.7 1603.9,800.6 1605.0,805.5 1606.0,810.4 1607.1,815.2 1608.2,820.1 1609.3,825.0 1610.4,829.8 1611.5,834.7 1612.7,839.5 1613.8,844.4 1615.0,849.3 1616.1,854.1 1617.3,859.0 1618.5,863.8 1619.7,868.7 1620.9,873.5 1622.2,878.3 1623.4,883.2 1624.7,888.0 1626.0,892.9 1627.2,897.7 1628.6,902.5 1629.9,907.3 1631.3,912.2 1632.6,917.0 1634.0,921.8 1635.4,926.6 1636.9,931.4 1638.3,936.2 1639.8,941.0 1641.3,945.9 1642.8,950.7 1644.3,955.5"/><path d="M1065.0,185.1 C1109.7,178.0 1154.5,170.9 1199.2,163.8"/><path d="M1065.0,192.6 1070.0,192.2 1074.9,191.8 1079.9,191.4 1084.9,191.0 1089.8,190.6 1094.8,190.2 1099.8,189.8 1104.8,189.4 1109.8,189.0 1114.8,188.7 1119.8,188.3 1124.8,188.0 1129.8,187.6 1134.8,187.3 1139.9,187.0 1144.9,186.7 1149.9,186.4 1154.9,186.1 1160.0,185.8 1165.0,185.6 1170.0,185.3 1175.0,185.1 1180.1,184.9 1185.1,184.7 1190.1,184.6 1195.1,184.5 1200.2,184.4 1205.2,184.3 1210.2,184.2 1215.2,184.2 1220.2,184.2 1225.2,184.2 1230.3,184.2 1235.3,184.3 1240.3,184.4 1245.3,184.5 1250.3,184.7 1255.3,184.9 1260.2,185.1 1265.2,185.4 1270.2,185.7 1275.2,186.0 1280.1,186.4 1285.1,186.7 1290.1,187.1 1295.0,187.6 1300.0,188.0 1305.0,188.4 1309.9,188.9 1314.9,189.4 1319.8,189.8 1324.8,190.3 1329.8,190.8 1334.8,191.2 1339.7,191.7 1344.7,192.1 1349.7,192.6 1354.7,193.0 1359.7,193.4 1364.7,193.8 1369.8,194.1 1374.8,194.5 1379.8,194.8 1384.9,195.2 1389.9,195.6 1394.9,196.1 1400.0,196.6 1405.0,197.2 1410.0,197.9 1415.0,198.7 1420.0,199.6 1425.0,200.6 1430.0,201.8 1434.9,203.1 1439.9,204.6 1444.8,206.2 1449.6,208.1 1454.4,210.1 1459.1,212.2 1463.7,214.5 1468.2,217.0 1472.6,219.7 1476.8,222.5 1480.9,225.4 1484.8,228.5 1488.5,231.8 1492.0,235.2 1495.2,238.8 1498.3,242.5 1501.0,246.4 1503.6,250.3 1505.8,254.5 1507.8,258.7 1509.7,263.1 1511.3,267.6 1512.7,272.1 1513.9,276.8 1515.0,281.6 1515.9,286.4 1516.8,291.3 1517.5,296.2 1518.1,301.2 1518.7,306.3 1519.2,311.3 1519.6,316.4 1520.0,321.5 1520.5,326.6 1520.9,331.7 1521.3,336.8 1521.7,341.9 1522.2,347.0 1522.6,352.1 1523.1,357.2 1523.6,362.3 1524.1,367.3 1524.6,372.4 1525.1,377.5 1525.6,382.5 1526.2,387.6 1526.7,392.6 1527.3,397.7 1527.8,402.7 1528.4,407.7 1529.0,412.8 1529.6,417.8 1530.2,422.8 1530.8,427.8 1531.5,432.8 1532.1,437.9 1532.8,442.9 1533.4,447.9 1534.1,452.8 1534.8,457.8 1535.5,462.8 1536.2,467.8 1536.9,472.8 1537.6,477.8 1538.3,482.7 1539.0,487.7 1539.8,492.7 1540.5,497.6 1541.3,502.6 1542.1,507.5 1542.9,512.5 1543.7,517.4 1544.5,522.4 1545.3,527.3 1546.1,532.2 1546.9,537.2 1547.8,542.1 1548.6,547.0 1549.5,551.9 1550.3,556.9 1551.2,561.8 1552.1,566.7 1553.0,571.6 1553.9,576.5 1554.8,581.4 1555.7,586.3 1556.7,591.2 1557.6,596.1 1558.5,601.0 1559.5,605.9 1560.4,610.8 1561.4,615.7 1562.4,620.6 1563.4,625.4 1564.4,630.3 1565.4,635.2 1566.4,640.1 1567.4,645.0 1568.4,649.8 1569.4,654.7 1570.5,659.6 1571.5,664.4 1572.6,669.3 1573.6,674.2 1574.7,679.0 1575.8,683.9 1576.9,688.8 1578.0,693.6 1579.1,698.5 1580.2,703.3 1581.3,708.2 1582.4,713.0 1583.5,717.9 1584.7,722.7 1585.8,727.6 1587.0,732.4 1588.1,737.3 1589.3,742.1 1590.5,747.0 1591.6,751.8 1592.8,756.7 1594.0,761.5 1595.2,766.4 1596.4,771.2 1597.6,776.0 1598.8,780.9 1600.0,785.7 1601.3,790.6 1602.5,795.4 1603.8,800.3 1605.0,805.1 1606.3,809.9 1607.5,814.8 1608.8,819.6 1610.0,824.5 1611.3,829.3 1612.6,834.2 1613.9,839.0 1615.2,843.8 1616.5,848.7 1617.8,853.5 1619.1,858.4 1620.4,863.2 1621.7,868.1 1623.1,872.9 1624.4,877.8 1625.7,882.6 1627.1,887.5 1628.4,892.3 1629.8,897.2 1631.1,902.0 1632.5,906.9 1633.9,911.7 1635.3,916.6 1636.6,921.4 1638.0,926.3 1639.4,931.1 1640.8,936.0 1642.2,940.9 1643.6,945.7 1645.0,950.6 1646.4,955.5"/><path d="M987.0,416.8 990.4,412.9 993.8,409.0 997.2,405.2 1000.7,401.4 1004.3,397.7 1007.9,394.1 1011.5,390.5 1015.2,387.0 1019.0,383.6 1022.7,380.2 1026.6,376.9 1030.4,373.6 1034.4,370.4 1038.3,367.3 1042.3,364.2 1046.4,361.1 1050.4,358.2 1054.5,355.2 1058.7,352.4 1062.9,349.6 1067.1,346.8 1071.4,344.1 1075.6,341.5 1080.0,338.9 1084.3,336.3 1088.7,333.8 1093.1,331.4 1097.5,329.0 1102.0,326.6 1106.5,324.3 1111.0,322.1 1115.6,319.9 1120.1,317.7 1124.7,315.6 1129.3,313.6 1134.0,311.6 1138.6,309.6 1143.3,307.7 1148.0,305.8 1152.7,304.0 1157.5,302.2 1162.2,300.4 1166.9,298.7 1171.7,297.0 1176.5,295.3 1181.3,293.7 1186.0,292.0 1190.8,290.4 1195.6,288.7 1200.3,287.0"/><path d="M1064.5,422.2 1069.3,421.7 1074.1,421.3 1078.9,420.9 1083.8,420.5 1088.7,420.1 1093.6,419.7 1098.5,419.4 1103.4,419.0 1108.4,418.7 1113.3,418.5 1118.3,418.2 1123.3,418.0 1128.4,417.8 1133.4,417.6 1138.4,417.4 1143.5,417.3 1148.6,417.2 1153.6,417.1 1158.7,417.0 1163.8,417.0 1168.9,417.0 1174.1,417.1 1179.2,417.1 1184.3,417.2 1189.4,417.3 1194.6,417.5 1199.7,417.7 1204.9,417.9 1210.0,418.2 1215.1,418.5 1220.3,418.8 1225.4,419.1 1230.6,419.5 1235.7,420.0 1240.8,420.4 1246.0,420.9 1251.1,421.5 1256.2,422.1 1261.3,422.7 1266.4,423.3 1271.5,424.0 1276.6,424.8 1281.7,425.6 1286.7,426.4 1291.8,427.2 1296.8,428.2 1301.9,429.1 1306.9,430.1 1311.9,431.1 1316.8,432.2 1321.8,433.4 1326.7,434.6 1331.7,435.8 1336.6,437.1 1341.5,438.4 1346.3,439.8 1351.2,441.2 1356.0,442.6 1360.8,444.2 1365.6,445.7 1370.3,447.4 1375.0,449.1 1379.7,450.8 1384.4,452.6 1389.0,454.4 1393.6,456.3 1398.2,458.3 1402.8,460.3 1407.3,462.3 1411.8,464.4 1416.2,466.6 1420.6,468.9 1425.0,471.1 1429.4,473.5 1433.7,475.9 1437.9,478.4 1442.2,480.9 1446.3,483.5 1450.5,486.2 1454.6,488.9 1458.7,491.6 1462.7,494.5 1466.7,497.3 1470.7,500.3 1474.6,503.3 1478.4,506.3 1482.3,509.4 1486.0,512.5 1489.8,515.7 1493.5,519.0 1497.1,522.3 1500.7,525.6 1504.3,529.0 1507.8,532.5 1511.3,536.0 1514.7,539.5 1518.1,543.1 1521.4,546.8 1524.7,550.4 1528.0,554.2 1531.2,557.9 1534.3,561.7 1537.4,565.6 1540.4,569.5 1543.4,573.4 1546.4,577.4 1549.3,581.4 1552.1,585.5 1554.9,589.6 1557.6,593.7 1560.3,597.9 1563.0,602.1 1565.6,606.3 1568.1,610.6 1570.6,614.9 1573.0,619.3 1575.4,623.6 1577.7,628.0 1580.0,632.5 1582.3,637.0 1584.5,641.4 1586.6,646.0 1588.7,650.5 1590.8,655.1 1592.8,659.7 1594.8,664.4 1596.7,669.0 1598.6,673.7 1600.5,678.4 1602.3,683.1 1604.0,687.9 1605.8,692.7 1607.4,697.4 1609.1,702.3 1610.7,707.1 1612.3,711.9 1613.8,716.8 1615.3,721.7 1616.7,726.6 1618.2,731.5 1619.5,736.4 1620.9,741.3 1622.2,746.3 1623.5,751.2 1624.7,756.2 1625.9,761.2 1627.1,766.2 1628.3,771.2 1629.4,776.2 1630.5,781.2 1631.5,786.2 1632.5,791.3 1633.5,796.3 1634.5,801.3 1635.4,806.3 1636.4,811.4 1637.2,816.4 1638.1,821.5 1638.9,826.5 1639.7,831.5 1640.5,836.6 1641.3,841.6 1642.0,846.7 1642.7,851.7 1643.4,856.7 1644.1,861.7 1644.7,866.7 1645.3,871.7 1646.0,876.7 1646.5,881.7 1647.1,886.7 1647.6,891.7 1648.2,896.6 1648.7,901.6 1649.2,906.5 1649.6,911.4 1650.1,916.3 1650.5,921.2 1651.0,926.1 1651.4,931.0 1651.8,935.8 1652.2,940.6 1652.5,945.4 1652.9,950.2 1653.2,955.0"/><path d="M974.9,715.3 977.5,711.1 980.1,706.9 982.7,702.6 985.3,698.4 987.9,694.1 990.5,689.8 993.0,685.5 995.6,681.1 998.1,676.8 1000.7,672.4 1003.2,668.0 1005.7,663.6 1008.2,659.2 1010.7,654.8 1013.2,650.3 1015.7,645.9 1018.2,641.5 1020.6,637.1 1023.1,632.6 1025.6,628.2 1028.0,623.8 1030.5,619.3 1032.9,614.9 1035.4,610.5 1037.8,606.1 1040.3,601.7 1042.7,597.3 1045.1,592.9 1047.5,588.5 1049.9,584.1 1052.3,579.7 1054.6,575.3 1057.0,570.9 1059.3,566.5 1061.6,562.0 1063.9,557.6 1066.2,553.2 1068.4,548.7 1070.6,544.3 1072.8,539.8 1074.9,535.3 1077.0,530.8 1079.1,526.2 1081.1,521.7 1083.1,517.1 1085.0,512.5 1087.0,507.9 1088.8,503.3 1090.7,498.6 1092.4,493.9 1094.2,489.2 1095.9,484.5 1097.5,479.7 1099.1,474.9 1100.6,470.1 1102.0,465.2 1103.5,460.3 1104.8,455.3 1106.1,450.3 1107.3,445.3 1108.5,440.2 1109.6,435.1 1110.7,430.1 1111.8,425.0 1113.0,419.9 1114.1,414.8 1115.3,409.8 1116.6,404.9 1117.9,399.9 1119.3,395.1 1120.9,390.4 1122.6,385.7 1124.4,381.2 1126.4,376.8 1128.5,372.5 1130.9,368.3 1133.4,364.3 1136.2,360.5 1139.2,356.8 1142.4,353.3 1145.8,350.0 1149.4,346.9 1153.1,343.9 1156.9,341.2 1160.9,338.6 1165.0,336.2 1169.3,334.0 1173.6,331.9 1178.1,330.1 1182.6,328.4 1187.3,326.8 1192.0,325.4 1196.8,324.1 1201.7,323.0 1206.6,322.0 1211.7,321.2 1216.7,320.4 1221.9,319.8 1227.1,319.2 1232.3,318.8 1237.6,318.4 1242.9,318.2 1248.2,318.0 1253.6,317.8 1258.9,317.8 1264.3,317.8 1269.7,317.8 1275.1,317.9 1280.5,318.1 1285.8,318.2 1291.2,318.4 1296.5,318.6 1301.8,318.8 1307.1,319.0 1312.3,319.3 1317.5,319.5 1322.7,319.7 1327.8,319.8 1332.9,320.0 1337.9,320.2 1342.9,320.4 1347.9,320.5 1352.8,320.7 1357.8,320.8 1362.7,320.9 1367.6,321.1 1372.4,321.2 1377.3,321.4 1382.1,321.5 1387.0,321.6 1391.8,321.8 1396.7,321.9 1401.5,322.1 1406.4,322.3 1411.2,322.4 1416.1,322.6 1421.0,322.8 1425.9,323.0 1430.9,323.2 1435.8,323.5 1440.8,323.7 1445.8,324.0 1450.8,324.3 1455.8,324.6 1460.9,324.9 1465.9,325.2 1471.0,325.6 1476.0,325.9 1481.1,326.3 1486.2,326.7 1491.2,327.2 1496.3,327.6 1501.4,328.1 1506.4,328.6 1511.4,329.1 1516.5,329.7 1521.5,330.3 1526.5,330.9 1531.4,331.5"/><path d="M976.0,715.3 C1044.0,598.3 1122.6,453.1 1256.6,403.1"/><path d="M981.0,715.3 983.6,711.1 986.3,707.0 989.0,702.8 991.7,698.6 994.4,694.4 997.2,690.3 999.9,686.1 1002.7,681.9 1005.5,677.8 1008.3,673.6 1011.2,669.5 1014.0,665.3 1016.9,661.2 1019.8,657.0 1022.7,652.9 1025.6,648.8 1028.6,644.7 1031.5,640.6 1034.5,636.5 1037.5,632.4 1040.5,628.3 1043.5,624.2 1046.6,620.2 1049.7,616.1 1052.7,612.1 1055.8,608.1 1058.9,604.0 1062.1,600.1 1065.2,596.1 1068.4,592.1 1071.6,588.2 1074.8,584.2 1078.0,580.3 1081.2,576.4 1084.4,572.5 1087.7,568.6 1091.0,564.8 1094.3,561.0 1097.6,557.2 1100.9,553.4 1104.2,549.6 1107.6,545.9 1110.9,542.1 1114.3,538.5 1117.7,534.8 1121.1,531.2 1124.6,527.6 1128.1,524.1 1131.6,520.6 1135.2,517.3 1138.9,514.1 1142.7,510.9 1146.5,507.9 1150.5,505.1 1154.6,502.4 1158.7,499.9 1163.0,497.5 1167.4,495.3 1171.8,493.1 1176.4,491.2 1181.0,489.3 1185.7,487.5 1190.4,485.9 1195.2,484.3 1200.1,482.8 1205.0,481.4 1209.9,480.1 1214.9,478.8 1219.8,477.5 1224.9,476.4 1229.9,475.2 1234.9,474.1 1239.9,473.0 1245.0,471.9 1250.0,470.8 1255.0,469.8 1260.0,468.7 1265.0,467.7 1270.0,466.7 1275.0,465.7 1280.0,464.7 1285.0,463.8 1290.0,462.8 1295.0,461.9 1299.9,461.0 1304.9,460.1 1309.9,459.2 1314.9,458.4 1319.8,457.5 1324.8,456.7 1329.8,455.9 1334.7,455.1 1339.7,454.4 1344.7,453.6 1349.6,452.9 1354.6,452.2 1359.6,451.5 1364.5,450.8 1369.5,450.2 1374.5,449.6 1379.4,449.0 1384.4,448.4 1389.4,447.8 1394.3,447.3 1399.3,446.8 1404.3,446.3 1409.2,445.8 1414.2,445.4 1419.2,445.0 1424.2,444.6 1429.2,444.2 1434.2,443.9 1439.1,443.6 1444.1,443.3 1449.1,443.0 1454.1,442.8 1459.1,442.6 1464.2,442.4 1469.2,442.2 1474.2,442.1 1479.2,442.0 1484.3,441.9 1489.3,441.9 1494.3,441.8 1499.4,441.9 1504.4,441.9 1509.5,442.0 1514.6,442.1 1519.6,442.2 1524.7,442.3 1529.8,442.5"/><path d="M1431.0,368.0 C1464.5,365.2 1497.9,362.3 1531.4,359.5"/><path d="M1413.0,398.0 1418.0,399.0 1423.1,400.1 1428.1,401.2 1433.2,402.2 1438.2,403.3 1443.2,404.4 1448.3,405.5 1453.3,406.6 1458.4,407.7 1463.4,408.8 1468.4,409.9 1473.5,411.0 1478.5,412.1 1483.5,413.2 1488.6,414.3 1493.6,415.4 1498.6,416.5 1503.6,417.6 1508.7,418.7 1513.7,419.9 1518.7,421.0 1523.8,422.1 1528.8,423.2 1533.8,424.3 1538.9,425.4 1543.9,426.5 1548.9,427.6"/><path d="M981.3,715.3 C1037.3,647.6 1114.1,592.7 1197.1,563.2"/><path d="M1001.0,715.3 1005.3,712.7 1009.6,710.1 1013.9,707.6 1018.2,705.1 1022.6,702.6 1026.9,700.1 1031.3,697.7 1035.7,695.3 1040.1,692.9 1044.5,690.5 1049.0,688.2 1053.4,685.9 1057.9,683.7 1062.4,681.5 1066.9,679.3 1071.4,677.1 1075.9,675.0 1080.4,672.9 1085.0,670.8 1089.5,668.8 1094.1,666.8 1098.7,664.8 1103.3,662.8 1108.0,660.9 1112.6,659.1 1117.2,657.2 1121.9,655.4 1126.6,653.6 1131.3,651.9 1136.0,650.2 1140.7,648.5 1145.4,646.9 1150.1,645.3 1154.9,643.7 1159.6,642.2 1164.4,640.7 1169.2,639.2 1174.0,637.8 1178.8,636.4 1183.6,635.1 1188.4,633.8"/><path d="M1085.4,715.3 C1119.6,709.5 1153.8,703.7 1188.0,697.8"/><path d="M1100.5,738.0 C1129.5,738.4 1158.5,738.8 1187.5,739.2"/><path d="M1063.6,755.3 1068.6,756.7 1073.6,758.0 1078.6,759.3 1083.7,760.6 1088.7,761.8 1093.8,762.9 1098.8,764.0 1103.9,765.1 1108.9,766.1 1114.0,767.2 1119.1,768.1 1124.2,769.1 1129.3,770.1 1134.4,771.0 1139.5,771.9 1144.6,772.8 1149.7,773.7 1154.8,774.6 1159.9,775.5 1165.0,776.4 1170.1,777.4 1175.2,778.3 1180.2,779.3 1185.3,780.2 1190.4,781.2 1195.5,782.2 1200.6,783.3 1205.6,784.4"/><path d="M1090.0,755.3 1094.8,757.8 1099.2,760.7 1103.3,763.8 1106.9,767.1 1110.3,770.7 1113.4,774.5 1116.2,778.5 1118.9,782.6 1121.4,786.8 1123.7,791.1 1126.0,795.4 1128.3,799.8 1130.5,804.2 1132.8,808.5 1135.1,812.8 1137.6,817.0 1140.2,821.1 1143.0,825.1 1146.0,828.9 1149.2,832.5 1152.6,836.0 1156.1,839.3 1159.9,842.5 1163.8,845.5 1167.9,848.3 1172.0,851.0 1176.4,853.6 1180.8,855.9 1185.3,858.2 1189.9,860.3 1194.6,862.3 1199.4,864.1 1204.2,865.7 1209.1,867.3 1214.0,868.7 1218.9,869.9 1223.9,871.1 1228.8,872.1 1233.7,872.9 1238.7,873.7 1243.7,874.3 1248.6,874.9 1253.6,875.3 1258.6,875.7 1263.6,876.0 1268.6,876.2 1273.6,876.3 1278.6,876.3 1283.6,876.3 1288.6,876.3 1293.6,876.2 1298.7,876.0 1303.7,875.9 1308.7,875.7 1313.7,875.5 1318.8,875.2 1323.8,875.0 1328.8,874.8 1333.9,874.5 1338.9,874.3 1343.9,874.1 1349.0,873.9 1354.0,873.8 1359.1,873.7 1364.1,873.6 1369.1,873.6 1374.2,873.6 1379.2,873.7 1384.2,873.9 1389.2,874.1 1394.3,874.5 1399.3,874.8 1404.3,875.3 1409.3,875.8 1414.3,876.4 1419.3,877.1 1424.3,877.8 1429.3,878.6 1434.2,879.4 1439.2,880.3 1444.1,881.3 1449.0,882.4 1454.0,883.5 1458.9,884.7 1463.7,885.9 1468.6,887.2 1473.5,888.5 1478.3,890.0 1483.1,891.4 1487.9,893.0 1492.7,894.6 1497.4,896.2 1502.2,897.9 1506.9,899.7 1511.6,901.5 1516.2,903.4 1520.9,905.3 1525.5,907.3 1530.1,909.4 1534.6,911.5 1539.2,913.6 1543.7,915.8 1548.1,918.1 1552.6,920.4 1557.0,922.8 1561.4,925.2 1565.7,927.7 1570.0,930.2 1574.3,932.8 1578.6,935.4 1582.8,938.0 1587.0,940.8 1591.2,943.5 1595.3,946.4 1599.4,949.2 1603.5,952.1 1607.5,955.1 1611.5,958.1 1615.5,961.2"/><path d="M1064.5,810.6 1070.4,811.0 1075.9,812.0 1081.0,813.6 1085.8,815.5 1090.3,817.9 1094.5,820.7 1098.4,823.9 1102.1,827.3 1105.6,831.0 1108.9,834.9 1112.1,839.0 1115.2,843.2 1118.2,847.5 1121.2,851.8 1124.1,856.2 1127.0,860.4 1130.0,864.6 1133.1,868.6 1136.4,872.5 1139.8,876.0 1143.5,879.2 1147.3,882.1 1151.4,884.7 1155.7,887.1 1160.1,889.3 1164.7,891.3 1169.4,893.2 1174.2,894.9 1179.0,896.6 1183.9,898.2 1188.8,899.9"/><path d="M1064.5,815.9 C1140.7,830.2 1120.6,895.7 1188.5,908.5"/><path d="M1066.5,929.5 C1107.1,928.6 1147.6,927.8 1188.2,926.9"/><path d="M1064.5,880.4 1070.4,881.0 1075.9,882.0 1081.1,883.4 1086.1,885.2 1090.8,887.3 1095.2,889.7 1099.4,892.4 1103.5,895.3 1107.3,898.5 1111.0,901.9 1114.6,905.4 1118.0,909.1 1121.3,912.9 1124.6,916.8 1127.8,920.8 1131.0,924.9 1134.1,928.9 1137.2,933.0 1140.4,937.0 1143.6,941.0 1146.9,944.8 1150.2,948.6 1153.7,952.2 1157.3,955.6 1161.0,958.9 1164.9,961.9 1168.9,964.7 1173.2,967.3 1177.7,969.5 1182.4,971.4 1187.4,973.0"/><path d="M1066.6,947.8 1066.4,948.5 1067.8,949.3 1070.4,950.1 1074.3,951.0 1079.2,952.0 1085.0,953.0 1091.5,954.0 1098.7,955.0 1106.4,956.0 1114.5,957.1 1122.7,958.1 1131.0,959.1 1139.3,960.1 1147.3,961.1 1155.0,962.0 1162.2,962.9 1168.8,963.7 1174.6,964.4 1179.5,965.1 1183.3,965.6 1186.0,966.1 1187.3,966.5 1187.1,966.8 1185.3,966.9 1182.9,967.0 1186.7,967.6"/><path d="M1092.0,755.3 1095.9,758.2 1099.7,761.2 1103.4,764.4 1107.1,767.9 1110.7,771.4 1114.2,775.2 1117.5,779.1 1120.7,783.1 1123.7,787.2 1126.6,791.5 1129.2,795.9 1131.7,800.3 1133.9,804.9 1135.9,809.5 1137.6,814.2 1139.0,819.0 1140.3,823.8 1141.3,828.7 1142.1,833.6 1142.7,838.5 1143.1,843.5 1143.4,848.5 1143.5,853.6 1143.4,858.6 1143.3,863.7 1143.0,868.8 1142.6,873.9 1142.1,879.0 1141.6,884.1 1141.0,889.2 1140.4,894.3 1139.7,899.4 1139.0,904.4 1138.4,909.4 1138.0,914.3 1137.8,919.1 1138.0,923.8 1138.7,928.3 1139.9,932.7 1141.6,936.8 1143.7,940.8 1146.2,944.5 1149.2,948.1 1152.4,951.5 1156.1,954.6 1160.0,957.6 1164.1,960.4 1168.6,962.9 1173.2,965.2 1177.9,967.3 1182.8,969.2 1187.7,970.9"/><path d="M1092.0,755.3 1096.7,758.2 1101.1,761.2 1105.2,764.5 1109.0,768.0 1112.6,771.6 1115.8,775.4 1118.8,779.4 1121.5,783.5 1124.0,787.8 1126.1,792.2 1128.0,796.7 1129.7,801.3 1131.0,806.0 1132.1,810.8 1133.0,815.7 1133.6,820.6 1134.0,825.7 1134.2,830.7 1134.3,835.8 1134.2,841.0 1134.0,846.2 1133.8,851.4 1133.5,856.6 1133.1,861.8 1132.7,867.0 1132.4,872.2 1132.1,877.4 1131.8,882.6 1131.7,887.7 1131.6,892.8 1131.7,897.8 1131.9,902.8 1132.3,907.7 1133.0,912.6 1133.8,917.3 1134.9,922.0 1136.3,926.5 1138.0,931.0 1140.0,935.3 1142.2,939.6 1144.8,943.6 1147.5,947.6 1150.5,951.3 1153.8,955.0 1157.3,958.4 1161.0,961.7 1165.0,964.7 1169.1,967.6 1173.5,970.2 1178.0,972.7 1182.8,974.9 1187.7,976.8"/><path d="M1066.6,941.9 C1149.7,969.4 1095.9,1001.7 1187.6,1037.0"/><path d="M1066.6,946.1 1072.0,947.1 1077.1,948.5 1081.9,950.3 1086.5,952.4 1090.8,954.8 1095.0,957.5 1098.9,960.5 1102.7,963.7 1106.4,967.1 1109.9,970.7 1113.3,974.4 1116.6,978.3 1119.8,982.3 1123.0,986.4 1126.2,990.5 1129.3,994.6 1132.5,998.8 1135.7,1002.9 1138.9,1006.9 1142.3,1010.9 1145.7,1014.8 1149.2,1018.6 1152.8,1022.2 1156.6,1025.7 1160.5,1028.9 1164.6,1032.0 1168.8,1034.9 1173.3,1037.5 1177.8,1039.9 1182.6,1042.0 1187.6,1043.8"/><path d="M1064.5,1011.0 1069.5,1012.5 1074.5,1013.9 1079.5,1015.2 1084.6,1016.4 1089.6,1017.5 1094.7,1018.5 1099.8,1019.4 1104.9,1020.3 1110.0,1021.0 1115.1,1021.8 1120.2,1022.4 1125.3,1023.1 1130.5,1023.7 1135.6,1024.3 1140.7,1024.9 1145.9,1025.5 1151.0,1026.1 1156.2,1026.7 1161.3,1027.4 1166.4,1028.0 1171.5,1028.7 1176.6,1029.5 1181.7,1030.4 1186.8,1031.3"/><path d="M1064.5,1012.7 1070.1,1012.9 1075.4,1013.5 1080.5,1014.5 1085.3,1015.9 1089.9,1017.7 1094.3,1019.9 1098.4,1022.4 1102.3,1025.2 1106.0,1028.4 1109.5,1031.9 1112.9,1035.6 1116.0,1039.7 1119.0,1044.0 1121.9,1048.4 1124.8,1052.8 1127.7,1057.2 1130.8,1061.4 1134.0,1065.4 1137.2,1069.2 1140.6,1072.8 1144.1,1076.3 1147.7,1079.6 1151.4,1082.8 1155.2,1085.8 1159.1,1088.6 1163.1,1091.3 1167.1,1093.9 1171.3,1096.3 1175.5,1098.5 1179.8,1100.7 1184.2,1102.6 1188.6,1104.5 1193.1,1106.3 1197.7,1107.9 1202.4,1109.4 1207.0,1110.8 1211.8,1112.1 1216.6,1113.2 1221.4,1114.3 1226.3,1115.3 1231.2,1116.2 1236.2,1117.0 1241.2,1117.7 1246.2,1118.3 1251.3,1118.9 1256.4,1119.3 1261.5,1119.7 1266.6,1120.1 1271.7,1120.3 1276.9,1120.5 1282.0,1120.7 1287.2,1120.8 1292.3,1120.8 1297.5,1120.8 1302.6,1120.8 1307.8,1120.7 1312.9,1120.6 1318.0,1120.4 1323.2,1120.2 1328.3,1120.0 1333.4,1119.7 1338.5,1119.4 1343.6,1119.0 1348.6,1118.6 1353.7,1118.2 1358.8,1117.7 1363.8,1117.2 1368.8,1116.6 1373.9,1116.0 1378.9,1115.4 1383.9,1114.7 1388.9,1113.9 1393.8,1113.2 1398.8,1112.4 1403.7,1111.5 1408.7,1110.6 1413.6,1109.6 1418.5,1108.7 1423.4,1107.6 1428.3,1106.6 1433.1,1105.4 1438.0,1104.3 1442.8,1103.1 1447.6,1101.8 1452.4,1100.5 1457.2,1099.2 1462.0,1097.8 1466.7,1096.4 1471.4,1094.9 1476.1,1093.4 1480.8,1091.9 1485.5,1090.3 1490.2,1088.6 1494.8,1086.9 1499.4,1085.2 1504.0,1083.4 1508.6,1081.6 1513.1,1079.7 1517.6,1077.8 1522.1,1075.8 1526.6,1073.8 1531.1,1071.8 1535.5,1069.7 1539.9,1067.5 1544.3,1065.3 1548.7,1063.1 1553.0,1060.8 1557.4,1058.5 1561.7,1056.1 1565.9,1053.7 1570.2,1051.2 1574.4,1048.7 1578.6,1046.1 1582.8,1043.5 1586.9,1040.8 1591.0,1038.1 1595.1,1035.3 1599.1,1032.5 1603.2,1029.7 1607.2,1026.8 1611.1,1023.8 1615.1,1020.8 1619.0,1017.8"/><path d="M1092.0,755.3 1096.7,758.4 1101.0,761.6 1105.0,765.0 1108.6,768.5 1111.8,772.2 1114.8,776.1 1117.4,780.1 1119.7,784.2 1121.8,788.4 1123.6,792.8 1125.1,797.2 1126.4,801.8 1127.5,806.4 1128.4,811.2 1129.0,816.0 1129.5,820.9 1129.9,825.9 1130.1,830.9 1130.1,836.0 1130.0,841.1 1129.8,846.3 1129.6,851.5 1129.2,856.7 1128.8,862.0 1128.3,867.2 1127.8,872.5 1127.3,877.7 1126.8,883.0 1126.3,888.2 1125.8,893.4 1125.3,898.6 1124.9,903.8 1124.6,908.9 1124.3,914.0 1124.0,919.0 1123.8,924.0 1123.7,929.0 1123.6,934.0 1123.5,939.0 1123.5,943.9 1123.6,948.9 1123.7,953.8 1123.8,958.7 1123.9,963.7 1124.1,968.6 1124.3,973.6 1124.6,978.5 1124.9,983.5 1125.2,988.5 1125.6,993.5 1126.0,998.5 1126.4,1003.6 1127.0,1008.6 1127.6,1013.6 1128.3,1018.7 1129.1,1023.7 1130.0,1028.7 1131.0,1033.6 1132.1,1038.6 1133.4,1043.5 1134.8,1048.4 1136.3,1053.2 1138.0,1058.0 1139.8,1062.7 1141.7,1067.3 1143.8,1071.9 1146.0,1076.4 1148.4,1080.8 1150.9,1085.2 1153.5,1089.4 1156.3,1093.5 1159.3,1097.5 1162.4,1101.4 1165.6,1105.2 1168.9,1108.9 1172.4,1112.5 1176.0,1115.9 1179.7,1119.3 1183.5,1122.6 1187.4,1125.8 1191.4,1128.9 1195.5,1131.9 1199.6,1134.8 1203.8,1137.7 1208.1,1140.4 1212.4,1143.1 1216.7,1145.8 1221.1,1148.3 1225.5,1150.8 1230.0,1153.3 1234.4,1155.7 1238.9,1158.0 1243.4,1160.3 1247.8,1162.5 1252.2,1164.7"/><path d="M1092.0,755.3 1096.6,758.3 1100.8,761.5 1104.8,764.9 1108.4,768.4 1111.7,772.1 1114.7,775.9 1117.4,779.8 1119.8,783.9 1122.0,788.1 1124.0,792.4 1125.7,796.9 1127.2,801.4 1128.4,806.0 1129.5,810.8 1130.4,815.6 1131.2,820.5 1131.7,825.4 1132.1,830.4 1132.4,835.5 1132.6,840.6 1132.7,845.8 1132.6,851.0 1132.5,856.2 1132.3,861.4 1132.0,866.7 1131.7,871.9 1131.3,877.2 1131.0,882.4 1130.6,887.7 1130.2,892.9 1129.8,898.1 1129.4,903.2 1129.1,908.3 1128.8,913.4 1128.5,918.5 1128.3,923.5 1128.1,928.5 1127.8,933.5 1127.7,938.4 1127.5,943.4 1127.3,948.3 1127.2,953.3 1127.0,958.2 1126.9,963.1 1126.8,968.1 1126.7,973.0 1126.6,978.0 1126.5,982.9 1126.4,987.9 1126.3,992.9 1126.2,997.9 1126.0,1003.0 1125.9,1008.1 1125.8,1013.2 1125.7,1018.3 1125.6,1023.5 1125.6,1028.6 1125.6,1033.8 1125.7,1038.9 1126.0,1044.0 1126.4,1049.0 1126.9,1053.9 1127.6,1058.8 1128.5,1063.6 1129.7,1068.3 1131.0,1072.9 1132.6,1077.4 1134.5,1081.7 1136.7,1085.9 1139.2,1089.9 1142.1,1093.8 1145.3,1097.5 1148.9,1101.0 1152.7,1104.3 1156.8,1107.5 1161.1,1110.6 1165.5,1113.6 1170.1,1116.4 1174.7,1119.3 1179.4,1122.0 1184.1,1124.8 1188.7,1127.5 1193.2,1130.2 1197.6,1132.9 1201.9,1135.6 1206.2,1138.3 1210.4,1140.9 1214.6,1143.3 1218.8,1145.7 1223.1,1147.9 1227.5,1150.0 1231.9,1151.9 1236.4,1153.6 1240.9,1155.3 1245.5,1157.1 1250.0,1159.0 1254.4,1161.2 1258.7,1163.8"/><path d="M1075.0,1081.8 1079.8,1083.4 1084.4,1085.3 1088.9,1087.5 1093.2,1089.9 1097.4,1092.5 1101.5,1095.3 1105.5,1098.3 1109.4,1101.4 1113.2,1104.7 1117.0,1108.0 1120.7,1111.4 1124.4,1114.8 1128.1,1118.2 1131.8,1121.6 1135.5,1124.9 1139.3,1128.2 1143.1,1131.4 1146.9,1134.5 1150.9,1137.4 1154.9,1140.1 1159.0,1142.6 1163.3,1144.9 1167.7,1146.9 1172.3,1148.7 1176.9,1150.3 1181.7,1151.7 1186.5,1153.0 1191.4,1154.1 1196.3,1155.2 1201.3,1156.3 1206.3,1157.3 1211.2,1158.4 1216.2,1159.5 1221.1,1160.8 1225.9,1162.2 1230.6,1163.8 1235.2,1165.6"/><path d="M1074.6,1147.4 1079.6,1148.5 1084.6,1149.6 1089.6,1150.6 1094.6,1151.7 1099.7,1152.7 1104.7,1153.7 1109.7,1154.6 1114.7,1155.6 1119.8,1156.5 1124.8,1157.4 1129.8,1158.3 1134.9,1159.2 1139.9,1160.1 1145.0,1161.0 1150.0,1161.8 1155.1,1162.7 1160.1,1163.6 1165.2,1164.4 1170.2,1165.3 1175.3,1166.1 1180.3,1167.0 1185.4,1167.8 1190.4,1168.7 1195.4,1169.6 1200.5,1170.5 1205.5,1171.4"/><path d="M1066.5,1192.4 C1112.8,1192.4 1159.2,1192.4 1205.5,1192.4"/><path d="M1066.0,1211.2 C1109.7,1219.1 1153.4,1227.1 1197.0,1235.0"/><path d="M1071.5,1238.1 1076.4,1237.0 1081.4,1236.0 1086.3,1234.9 1091.3,1234.0 1096.2,1233.0 1101.2,1232.1 1106.2,1231.3 1111.2,1230.4 1116.2,1229.6 1121.1,1228.8 1126.1,1228.0 1131.1,1227.2 1136.1,1226.4 1141.1,1225.6 1146.1,1224.8 1151.1,1224.0 1156.1,1223.2 1161.1,1222.4 1166.1,1221.5 1171.1,1220.7 1176.0,1219.8 1181.0,1218.9 1186.0,1218.0 1190.9,1217.0 1195.9,1216.0 1200.8,1215.0 1205.7,1213.9"/><path d="M1071.5,1277.6 C1113.3,1285.2 1155.2,1292.9 1197.0,1300.5"/><path d="M1071.5,1307.4 1077.1,1306.4 1082.3,1304.9 1087.2,1303.1 1091.7,1300.8 1096.0,1298.2 1099.9,1295.3 1103.7,1292.1 1107.2,1288.6 1110.5,1285.0 1113.6,1281.1 1116.7,1277.1 1119.6,1272.9 1122.4,1268.6 1125.1,1264.3 1127.9,1260.0 1130.6,1255.6 1133.3,1251.3 1136.1,1247.0 1139.0,1242.8 1141.9,1238.8 1145.0,1234.9 1148.3,1231.1 1151.7,1227.6 1155.4,1224.4 1159.2,1221.4 1163.2,1218.6 1167.4,1216.0 1171.8,1213.7 1176.3,1211.6 1181.0,1209.7 1185.8,1208.0 1190.7,1206.4 1195.7,1205.1 1200.8,1203.9 1205.9,1202.9"/><path d="M1071.5,1343.0 C1113.3,1350.6 1155.2,1358.3 1197.0,1365.9"/><path d="M1064.6,1374.8 C1189.3,1348.1 1071.9,1239.3 1206.0,1198.1"/><path d="M1064.6,1378.6 C1190.0,1354.1 1075.1,1240.4 1206.1,1200.1"/><path d="M1064.5,1440.3 1070.9,1439.7 1076.7,1438.6 1081.9,1437.1 1086.7,1435.2 1091.0,1432.9 1094.9,1430.3 1098.4,1427.3 1101.4,1424.0 1104.2,1420.4 1106.5,1416.6 1108.6,1412.5 1110.5,1408.2 1112.0,1403.7 1113.4,1399.0 1114.6,1394.2 1115.6,1389.3 1116.5,1384.2 1117.3,1379.1 1118.1,1373.9 1118.8,1368.6 1119.5,1363.4 1120.1,1358.2 1120.9,1353.0 1121.7,1347.9 1122.6,1342.8 1123.7,1337.8 1124.9,1333.0 1126.3,1328.3 1127.9,1323.8 1129.7,1319.5 1131.9,1315.4 1134.3,1311.6 1137.2,1307.8 1140.6,1303.9 1144.7,1299.8 1149.5,1295.4 1154.9,1290.8 1159.9,1286.9 1163.5,1284.4 1164.7,1284.2 1163.4,1286.6 1166.7,1284.9"/><path d="M1064.5,1445.1 1070.2,1444.0 1075.7,1442.6 1080.9,1440.9 1085.9,1439.0 1090.6,1436.7 1095.1,1434.2 1099.3,1431.4 1103.3,1428.5 1107.0,1425.2 1110.4,1421.8 1113.6,1418.2 1116.6,1414.4 1119.2,1410.4 1121.7,1406.2 1123.8,1401.9 1125.8,1397.5 1127.4,1392.9 1128.8,1388.2 1130.0,1383.4 1130.8,1378.6 1131.5,1373.6 1131.8,1368.6 1132.0,1363.5 1131.9,1358.4 1131.6,1353.3 1131.2,1348.1 1130.6,1342.9 1130.0,1337.6 1129.3,1332.4 1128.5,1327.1 1127.8,1321.9 1127.1,1316.6 1126.4,1311.4 1125.9,1306.2 1125.4,1301.0 1125.1,1295.9 1125.0,1290.8 1125.1,1285.8 1125.4,1280.8 1126.0,1275.8 1126.9,1271.0 1128.1,1266.2 1129.5,1261.6 1131.1,1257.0 1133.1,1252.5 1135.2,1248.2 1137.6,1244.0 1140.3,1239.9 1143.1,1236.0 1146.2,1232.3 1149.4,1228.7 1152.9,1225.3 1156.6,1222.0 1160.4,1219.0 1164.4,1216.2 1168.6,1213.6 1173.0,1211.2 1177.5,1209.0 1182.2,1207.1 1187.0,1205.4 1191.9,1204.0 1196.9,1202.7 1201.9,1201.7 1207.0,1200.8"/><path d="M1064.5,1505.7 1071.4,1505.1 1077.7,1504.1 1083.5,1502.7 1088.7,1500.9 1093.4,1498.8 1097.7,1496.3 1101.5,1493.5 1105.0,1490.4 1108.0,1487.0 1110.7,1483.4 1113.0,1479.5 1115.1,1475.5 1116.8,1471.2 1118.3,1466.7 1119.6,1462.0 1120.8,1457.3 1121.7,1452.3 1122.5,1447.3 1123.2,1442.2 1123.9,1437.1 1124.4,1431.8 1125.0,1426.6 1125.5,1421.4 1126.1,1416.1 1126.8,1410.9 1127.5,1405.7 1128.4,1400.6 1129.4,1395.6 1130.5,1390.7 1131.9,1386.0 1133.5,1381.3 1135.3,1376.9 1137.4,1372.6 1140.0,1368.4 1143.2,1364.4 1147.1,1360.5 1152.0,1356.6 1157.5,1352.9 1162.2,1350.4 1164.4,1350.1 1163.4,1352.3 1166.7,1350.6"/><path d="M1064.5,1511.5 1071.3,1511.9 1077.4,1511.5 1083.1,1510.5 1088.2,1508.9 1092.8,1506.7 1097.0,1504.1 1100.8,1500.9 1104.3,1497.4 1107.4,1493.5 1110.3,1489.4 1113.0,1485.0 1115.5,1480.3 1117.8,1475.6 1120.0,1470.7 1122.2,1465.8 1124.4,1460.9 1126.6,1456.1 1128.8,1451.3 1131.2,1446.7 1133.7,1442.4 1136.4,1438.3 1139.3,1434.5 1142.5,1431.0 1146.0,1427.9 1149.8,1425.2 1153.8,1422.7 1158.1,1420.4 1162.5,1418.2 1167.0,1415.8"/><path d="M1065.0,1406.6 C1111.9,1415.3 1158.8,1424.0 1205.6,1432.7"/><path d="M1065.0,1454.2 C1111.8,1454.2 1158.6,1454.2 1205.4,1454.2"/><path d="M1064.5,1500.9 1069.5,1499.8 1074.5,1498.8 1079.5,1497.7 1084.6,1496.7 1089.6,1495.8 1094.6,1494.8 1099.6,1493.8 1104.7,1492.9 1109.7,1492.0 1114.8,1491.1 1119.8,1490.2 1124.8,1489.3 1129.9,1488.4 1134.9,1487.6 1140.0,1486.7 1145.0,1485.9 1150.1,1485.0 1155.1,1484.2 1160.2,1483.3 1165.2,1482.5 1170.3,1481.6 1175.3,1480.8 1180.4,1479.9 1185.4,1479.1 1190.5,1478.2 1195.5,1477.3 1200.6,1476.4 1205.6,1475.5"/><path d="M1064.5,1687.5 C1107.2,1687.5 1149.8,1687.5 1192.5,1687.5"/><path d="M1064.5,1752.5 C1109.3,1752.5 1154.2,1752.5 1199.0,1752.5"/><path d="M1396.2,1172.3 C1487.7,1148.4 1560.5,1085.1 1625.2,1019.8"/><path d="M1431.1,1516.7 1436.1,1514.8 1441.0,1512.8 1445.8,1510.6 1450.5,1508.4 1455.2,1506.1 1459.7,1503.7 1464.1,1501.2 1468.5,1498.7 1472.8,1496.0 1477.0,1493.3 1481.1,1490.4 1485.1,1487.5 1489.1,1484.6 1492.9,1481.5 1496.7,1478.4 1500.4,1475.2 1504.1,1471.9 1507.6,1468.5 1511.1,1465.1 1514.5,1461.6 1517.9,1458.1 1521.2,1454.4 1524.4,1450.8 1527.5,1447.0 1530.6,1443.2 1533.6,1439.3 1536.5,1435.4 1539.4,1431.4 1542.3,1427.4 1545.0,1423.3 1547.7,1419.2 1550.4,1415.0 1553.0,1410.8 1555.5,1406.5 1558.0,1402.2 1560.5,1397.9 1562.9,1393.5 1565.2,1389.0 1567.5,1384.6 1569.7,1380.0 1571.9,1375.5 1574.1,1370.9 1576.2,1366.3 1578.3,1361.7 1580.3,1357.0 1582.3,1352.3 1584.3,1347.6 1586.2,1342.9 1588.1,1338.1 1589.9,1333.3 1591.7,1328.5 1593.5,1323.7 1595.3,1318.9 1597.0,1314.0 1598.7,1309.2 1600.4,1304.3 1602.0,1299.4 1603.7,1294.6 1605.3,1289.7 1606.9,1284.8 1608.4,1279.9 1610.0,1275.0 1611.5,1270.1 1613.0,1265.2 1614.5,1260.3 1616.0,1255.5 1617.5,1250.6 1618.9,1245.7 1620.4,1240.9 1621.8,1236.0 1623.2,1231.2 1624.6,1226.4 1626.0,1221.6 1627.4,1216.7 1628.8,1211.9 1630.1,1207.1 1631.5,1202.3 1632.8,1197.5 1634.1,1192.7 1635.3,1188.0 1636.5,1183.2 1637.7,1178.4 1638.9,1173.6 1640.0,1168.8 1641.1,1164.0 1642.2,1159.1 1643.2,1154.3 1644.2,1149.5 1645.2,1144.7 1646.1,1139.8 1647.0,1135.0 1647.8,1130.1 1648.6,1125.2 1649.3,1120.3 1650.0,1115.4 1650.6,1110.5 1651.2,1105.5 1651.8,1100.6 1652.2,1095.6 1652.7,1090.6 1653.0,1085.6 1653.3,1080.5 1653.6,1075.4 1653.7,1070.4 1653.9,1065.2 1653.9,1060.1 1653.9,1054.9 1653.8,1049.7 1653.7,1044.6 1653.6,1039.4 1653.5,1034.2 1653.4,1029.1 1653.4,1024.0"/><path d="M1422.3,1598.0 1427.3,1596.1 1432.2,1594.1 1437.0,1592.0 1441.7,1589.8 1446.3,1587.6 1450.9,1585.2 1455.3,1582.8 1459.7,1580.3 1464.0,1577.7 1468.3,1575.0 1472.4,1572.3 1476.5,1569.4 1480.5,1566.5 1484.4,1563.5 1488.2,1560.5 1492.0,1557.3 1495.7,1554.1 1499.3,1550.9 1502.9,1547.5 1506.4,1544.1 1509.8,1540.7 1513.1,1537.2 1516.4,1533.6 1519.7,1529.9 1522.8,1526.2 1525.9,1522.5 1529.0,1518.6 1531.9,1514.8 1534.9,1510.9 1537.7,1506.9 1540.5,1502.9 1543.3,1498.8 1546.0,1494.7 1548.6,1490.5 1551.2,1486.3 1553.7,1482.1 1556.2,1477.8 1558.6,1473.4 1561.0,1469.1 1563.3,1464.7 1565.6,1460.2 1567.9,1455.8 1570.1,1451.3 1572.2,1446.7 1574.4,1442.2 1576.4,1437.6 1578.5,1433.0 1580.5,1428.4 1582.4,1423.7 1584.3,1419.0 1586.2,1414.3 1588.1,1409.6 1589.9,1404.9 1591.7,1400.1 1593.4,1395.3 1595.1,1390.5 1596.8,1385.8 1598.5,1380.9 1600.1,1376.1 1601.7,1371.3 1603.3,1366.4 1604.8,1361.6 1606.3,1356.7 1607.8,1351.8 1609.3,1347.0 1610.7,1342.1 1612.1,1337.1 1613.5,1332.2 1614.8,1327.3 1616.1,1322.4 1617.4,1317.4 1618.7,1312.5 1619.9,1307.6 1621.2,1302.6 1622.4,1297.6 1623.5,1292.7 1624.7,1287.7 1625.8,1282.7 1626.9,1277.8 1628.0,1272.8 1629.0,1267.8 1630.0,1262.8 1631.1,1257.9 1632.1,1252.9 1633.0,1247.9 1634.0,1242.9 1634.9,1237.9 1635.8,1233.0 1636.7,1228.0 1637.6,1223.0 1638.4,1218.0 1639.2,1213.1 1640.0,1208.1 1640.8,1203.1 1641.6,1198.1 1642.3,1193.2 1643.0,1188.2 1643.7,1183.2 1644.4,1178.2 1645.1,1173.3 1645.7,1168.3 1646.3,1163.3 1646.9,1158.3 1647.4,1153.4 1648.0,1148.4 1648.5,1143.4 1649.0,1138.5 1649.5,1133.5 1649.9,1128.5 1650.3,1123.5 1650.7,1118.6 1651.1,1113.6 1651.4,1108.6 1651.7,1103.7 1652.0,1098.7 1652.3,1093.7 1652.6,1088.7 1652.8,1083.8 1653.0,1078.8 1653.1,1073.8 1653.3,1068.8 1653.4,1063.9 1653.5,1058.9 1653.6,1053.9 1653.6,1048.9 1653.6,1043.9 1653.6,1039.0 1653.6,1034.0 1653.5,1029.0 1653.4,1024.0"/></g>
<g fill="#191970" stroke="#191970" stroke-width="1"><polygon points="303.2,1179.0 290.2,1187.1 288.0,1177.5"/><polygon points="263.5,1224.5 249.0,1229.4 249.0,1219.6"/><polygon points="303.2,1269.8 288.0,1271.3 290.2,1261.8"/><polygon points="574.0,1246.1 559.0,1249.3 560.2,1239.6"/><polygon points="574.0,1269.4 560.1,1275.8 559.1,1266.0"/><polygon points="906.6,104.4 896.7,116.1 891.7,107.7"/><polygon points="944.3,222.0 939.9,236.7 931.9,231.0"/><polygon points="950.0,456.8 947.7,471.9 939.0,467.4"/><polygon points="838.8,755.3 831.4,768.7 824.8,761.4"/><polygon points="864.3,809.5 853.2,820.0 849.1,811.2"/><polygon points="864.3,875.4 853.2,885.9 849.1,877.1"/><polygon points="861.4,942.9 849.7,952.8 846.1,943.7"/><polygon points="863.2,1008.5 851.5,1018.4 847.9,1009.3"/><polygon points="847.7,1081.4 837.2,1092.6 832.6,1083.9"/><polygon points="856.9,1147.0 845.8,1157.5 841.7,1148.6"/><polygon points="875.3,1212.2 862.3,1220.2 860.1,1210.7"/><polygon points="856.5,1258.0 842.0,1262.9 842.0,1253.1"/><polygon points="876.0,1303.2 860.8,1304.8 862.9,1295.2"/><polygon points="863.7,1370.6 848.4,1371.8 850.8,1362.3"/><polygon points="863.7,1438.9 848.5,1440.3 850.7,1430.7"/><polygon points="863.7,1506.5 848.5,1507.9 850.7,1498.3"/><polygon points="1210.6,1547.8 1196.9,1554.7 1195.6,1545.0"/><polygon points="1224.8,1632.6 1211.6,1640.3 1209.6,1630.7"/><polygon points="863.9,1671.0 848.6,1671.4 851.5,1662.1"/><polygon points="863.9,1742.6 848.6,1743.0 851.5,1733.7"/><polygon points="863.9,1808.7 848.6,1808.1 852.1,1798.9"/><polygon points="863.9,1874.7 848.6,1874.1 852.1,1864.9"/><polygon points="863.9,1939.7 848.6,1940.1 851.5,1930.8"/><polygon points="1213.5,43.5 1200.0,50.7 1198.4,41.0"/><polygon points="1647.9,969.5 1639.6,956.7 1649.0,954.2"/><polygon points="1213.5,161.5 1199.9,168.6 1198.4,158.9"/><polygon points="1650.0,969.5 1641.7,956.7 1651.1,954.2"/><polygon points="1213.5,281.0 1202.4,291.5 1198.3,282.6"/><polygon points="1653.2,969.5 1648.3,955.0 1658.1,955.0"/><polygon points="1545.8,333.4 1530.8,336.4 1532.1,326.7"/><polygon points="1270.2,398.0 1258.3,407.7 1254.9,398.5"/><polygon points="1544.3,442.5 1529.8,447.4 1529.8,437.6"/><polygon points="1545.8,358.3 1531.8,364.4 1530.9,354.6"/><polygon points="1563.1,430.7 1547.9,432.4 1550.0,422.8"/><polygon points="1210.8,558.3 1198.8,567.8 1195.5,558.5"/><polygon points="1202.3,629.5 1189.9,638.4 1187.0,629.1"/><polygon points="1202.3,695.4 1188.8,702.7 1187.2,693.0"/><polygon points="1202.0,739.4 1187.4,744.1 1187.6,734.3"/><polygon points="1219.8,787.4 1204.6,789.2 1206.6,779.6"/><polygon points="1627.4,969.5 1612.7,965.2 1618.3,957.2"/><polygon points="1202.3,905.1 1187.0,904.4 1190.6,895.3"/><polygon points="1202.7,911.2 1187.5,913.3 1189.4,903.7"/><polygon points="1202.7,926.6 1188.3,931.8 1188.1,922.0"/><polygon points="1201.0,978.0 1185.7,977.6 1189.1,968.4"/><polygon points="1201.1,969.7 1186.1,972.5 1187.4,962.8"/><polygon points="1201.1,976.4 1185.8,975.5 1189.5,966.4"/><polygon points="1201.1,982.3 1185.8,981.4 1189.5,972.3"/><polygon points="1201.1,1042.2 1185.8,1041.6 1189.3,1032.4"/><polygon points="1201.1,1049.0 1185.8,1048.4 1189.3,1039.2"/><polygon points="1201.1,1033.8 1186.0,1036.1 1187.7,1026.4"/><polygon points="1630.9,1009.5 1621.8,1021.8 1616.2,1013.8"/><polygon points="1264.7,1172.1 1249.7,1168.9 1254.7,1160.5"/><polygon points="1270.6,1172.1 1255.9,1167.8 1261.5,1159.8"/><polygon points="1248.2,1172.1 1233.0,1170.0 1237.4,1161.2"/><polygon points="1219.8,1173.9 1204.7,1176.2 1206.4,1166.5"/><polygon points="1220.0,1192.4 1205.5,1197.3 1205.5,1187.5"/><polygon points="1211.3,1237.6 1196.2,1239.8 1197.9,1230.2"/><polygon points="1219.9,1210.7 1206.8,1218.6 1204.7,1209.1"/><polygon points="1211.3,1303.1 1196.2,1305.3 1197.9,1295.7"/><polygon points="1219.9,1199.1 1207.2,1207.6 1204.6,1198.2"/><polygon points="1211.3,1368.5 1196.2,1370.7 1197.9,1361.1"/><polygon points="1219.9,1193.8 1207.5,1202.7 1204.6,1193.4"/><polygon points="1220.0,1195.8 1207.6,1204.7 1204.7,1195.4"/><polygon points="1179.2,1277.6 1169.2,1289.2 1164.2,1280.7"/><polygon points="1221.0,1197.0 1208.3,1205.5 1205.7,1196.0"/><polygon points="1179.2,1343.3 1169.2,1354.9 1164.2,1346.4"/><polygon points="1179.5,1408.5 1169.5,1420.1 1164.5,1411.6"/><polygon points="1219.9,1435.4 1204.7,1437.6 1206.5,1427.9"/><polygon points="1219.9,1454.2 1205.4,1459.1 1205.4,1449.3"/><polygon points="1219.9,1473.0 1206.5,1480.4 1204.8,1470.7"/><polygon points="1207.0,1687.5 1192.5,1692.4 1192.5,1682.6"/><polygon points="1213.5,1752.5 1199.0,1757.4 1199.0,1747.6"/><polygon points="1635.4,1009.5 1628.7,1023.2 1621.7,1016.4"/><polygon points="1653.4,1009.5 1658.3,1024.0 1648.5,1024.0"/><polygon points="1653.4,1009.5 1658.3,1024.0 1648.5,1024.0"/></g>
<g stroke-width="1.2"><rect x="5.5" y="1204.5" width="201.0" height="40.0" fill="#bfbfbf" stroke="#000000"/><text x="15.8" y="1220.4" textLength="180.5" lengthAdjust="spacingAndGlyphs">net.sf.gridarta.mainactions.</text><text x="24.9" y="1234.8" textLength="162.2" lengthAdjust="spacingAndGlyphs">MainActions.MainActions</text><rect x="269.5" y="1139.5" width="241.0" height="40.0" fill="#fff" stroke="#000000"/><text x="280.0" y="1155.4" textLength="194.1" lengthAdjust="spacingAndGlyphs">net.sf.gridarta.gui.copybuffer.</text><text x="280.0" y="1169.8" textLength="219.9" lengthAdjust="spacingAndGlyphs">CopyBuffer.addMapModelListener</text><rect x="263.5" y="1204.5" width="253.0" height="40.0" fill="#fff" stroke="#000000"/><text x="275.2" y="1220.4" textLength="180.5" lengthAdjust="spacingAndGlyphs">net.sf.gridarta.mainactions.</text><text x="275.2" y="1234.8" textLength="229.7" lengthAdjust="spacingAndGlyphs">MainActions.newMapModelListener</text><rect x="254.5" y="1269.5" width="271.0" height="40.0" fill="#fff" stroke="#000000"/><text x="266.1" y="1285.4" textLength="180.5" lengthAdjust="spacingAndGlyphs">net.sf.gridarta.mainactions.</text><text x="266.1" y="1299.8" textLength="247.7" lengthAdjust="spacingAndGlyphs">MainActions.newMapManagerListener</text><rect x="573.5" y="1237.5" width="201.0" height="40.0" fill="#fff" stroke="#000000"/><text x="583.8" y="1253.4" textLength="180.5" lengthAdjust="spacingAndGlyphs">net.sf.gridarta.mainactions.</text><text x="588.1" y="1267.8" textLength="171.9" lengthAdjust="spacingAndGlyphs">MainActions.refreshMenus</text><rect x="863.5" y="64.5" width="201.0" height="40.0" fill="#fff" stroke="#000000"/><text x="873.8" y="80.4" textLength="180.5" lengthAdjust="spacingAndGlyphs">net.sf.gridarta.mainactions.</text><text x="897.2" y="94.8" textLength="133.7" lengthAdjust="spacingAndGlyphs">MainActions.doClear</text><rect x="863.5" y="182.5" width="201.0" height="40.0" fill="#fff" stroke="#000000"/><text x="873.8" y="198.4" textLength="180.5" lengthAdjust="spacingAndGlyphs">net.sf.gridarta.mainactions.</text><text x="897.7" y="212.8" textLength="132.6" lengthAdjust="spacingAndGlyphs">MainActions.doCopy</text><rect x="863.5" y="416.5" width="201.0" height="40.0" fill="#fff" stroke="#000000"/><text x="873.8" y="432.4" textLength="180.5" lengthAdjust="spacingAndGlyphs">net.sf.gridarta.mainactions.</text><text x="903.0" y="446.8" textLength="122.0" lengthAdjust="spacingAndGlyphs">MainActions.doCut</text><rect x="827.5" y="715.5" width="273.0" height="40.0" fill="#fff" stroke="#000000"/><text x="838.6" y="731.4" textLength="180.5" lengthAdjust="spacingAndGlyphs">net.sf.gridarta.mainactions.</text><text x="838.6" y="745.8" textLength="250.8" lengthAdjust="spacingAndGlyphs">MainActions.doExpandEmptySelection</text><rect x="863.5" y="780.5" width="201.0" height="40.0" fill="#fff" stroke="#ff0000"/><text x="873.8" y="796.4" textLength="180.5" lengthAdjust="spacingAndGlyphs">net.sf.gridarta.mainactions.</text><text x="887.8" y="810.8" textLength="152.4" lengthAdjust="spacingAndGlyphs">MainActions.doFloodFill</text><rect x="863.5" y="846.5" width="201.0" height="40.0" fill="#fff" stroke="#ff0000"/><text x="873.8" y="862.4" textLength="180.5" lengthAdjust="spacingAndGlyphs">net.sf.gridarta.mainactions.</text><text x="899.4" y="876.8" textLength="129.2" lengthAdjust="spacingAndGlyphs">MainActions.doShift</text><rect x="861.5" y="911.5" width="205.0" height="40.0" fill="#fff" stroke="#ff0000"/><text x="872.8" y="927.4" textLength="180.5" lengthAdjust="spacingAndGlyphs">net.sf.gridarta.mainactions.</text><text x="872.8" y="941.8" textLength="182.4" lengthAdjust="spacingAndGlyphs">MainActions.doMassChange</text><rect x="863.5" y="976.5" width="201.0" height="40.0" fill="#fff" stroke="#ff0000"/><text x="873.8" y="992.4" textLength="180.5" lengthAdjust="spacingAndGlyphs">net.sf.gridarta.mainactions.</text><text x="881.0" y="1006.8" textLength="166.0" lengthAdjust="spacingAndGlyphs">MainActions.doPasteTiled</text><rect x="822.5" y="1042.5" width="283.0" height="40.0" fill="#fff" stroke="#ff0000"/><text x="833.4" y="1058.4" textLength="180.5" lengthAdjust="spacingAndGlyphs">net.sf.gridarta.mainactions.</text><text x="833.4" y="1072.8" textLength="261.3" lengthAdjust="spacingAndGlyphs">MainActions.doTileStretchingChangeSet</text><rect x="833.5" y="1107.5" width="261.0" height="40.0" fill="#fff" stroke="#ff0000"/><text x="844.1" y="1123.4" textLength="180.5" lengthAdjust="spacingAndGlyphs">net.sf.gridarta.mainactions.</text><text x="844.1" y="1137.8" textLength="239.8" lengthAdjust="spacingAndGlyphs">MainActions.doTileStretchingChange</text><rect x="861.5" y="1172.5" width="205.0" height="40.0" fill="#fff" stroke="#ff0000"/><text x="873.6" y="1188.4" textLength="180.5" lengthAdjust="spacingAndGlyphs">net.sf.gridarta.mainactions.</text><text x="873.6" y="1202.8" textLength="180.7" lengthAdjust="spacingAndGlyphs">MainActions.doRandFillAuto</text><rect x="856.5" y="1238.5" width="215.0" height="40.0" fill="#fff" stroke="#ff0000"/><text x="869.2" y="1254.4" textLength="180.5" lengthAdjust="spacingAndGlyphs">net.sf.gridarta.mainactions.</text><text x="869.2" y="1268.8" textLength="189.7" lengthAdjust="spacingAndGlyphs">MainActions.doRandFillBelow</text><rect x="856.5" y="1303.5" width="215.0" height="40.0" fill="#fff" stroke="#ff0000"/><text x="868.3" y="1319.4" textLength="180.5" lengthAdjust="spacingAndGlyphs">net.sf.gridarta.mainactions.</text><text x="868.3" y="1333.8" textLength="191.4" lengthAdjust="spacingAndGlyphs">MainActions.doRandFillAbove</text><rect x="863.5" y="1368.5" width="201.0" height="40.0" fill="#fff" stroke="#000000"/><text x="873.8" y="1384.4" textLength="180.5" lengthAdjust="spacingAndGlyphs">net.sf.gridarta.mainactions.</text><text x="890.3" y="1398.8" textLength="147.3" lengthAdjust="spacingAndGlyphs">MainActions.doFillAuto</text><rect x="863.5" y="1434.5" width="201.0" height="40.0" fill="#fff" stroke="#000000"/><text x="873.8" y="1450.4" textLength="180.5" lengthAdjust="spacingAndGlyphs">net.sf.gridarta.mainactions.</text><text x="885.9" y="1464.8" textLength="156.3" lengthAdjust="spacingAndGlyphs">MainActions.doFillBelow</text><rect x="863.5" y="1499.5" width="201.0" height="40.0" fill="#fff" stroke="#000000"/><text x="873.8" y="1515.4" textLength="180.5" lengthAdjust="spacingAndGlyphs">net.sf.gridarta.mainactions.</text><text x="885.0" y="1529.8" textLength="158.0" lengthAdjust="spacingAndGlyphs">MainActions.doFillAbove</text><rect x="863.5" y="1667.5" width="201.0" height="40.0" fill="#fff" stroke="#000000"/><text x="873.8" y="1683.4" textLength="180.5" lengthAdjust="spacingAndGlyphs">net.sf.gridarta.mainactions.</text><text x="900.9" y="1697.8" textLength="126.3" lengthAdjust="spacingAndGlyphs">MainActions.doFind</text><rect x="863.5" y="1732.5" width="201.0" height="40.0" fill="#fff" stroke="#000000"/><text x="873.8" y="1748.4" textLength="180.5" lengthAdjust="spacingAndGlyphs">net.sf.gridarta.mainactions.</text><text x="885.6" y="1762.8" textLength="156.7" lengthAdjust="spacingAndGlyphs">MainActions.doFindNext</text><rect x="863.5" y="1798.5" width="201.0" height="40.0" fill="#fff" stroke="#ff0000"/><text x="873.8" y="1814.4" textLength="180.5" lengthAdjust="spacingAndGlyphs">net.sf.gridarta.mainactions.</text><text x="886.6" y="1828.8" textLength="154.8" lengthAdjust="spacingAndGlyphs">MainActions.doFindPrev</text><rect x="863.5" y="1863.5" width="201.0" height="40.0" fill="#fff" stroke="#ff0000"/><text x="873.8" y="1879.4" textLength="180.5" lengthAdjust="spacingAndGlyphs">net.sf.gridarta.mainactions.</text><text x="896.6" y="1893.8" textLength="134.8" lengthAdjust="spacingAndGlyphs">MainActions.doPaste</text><rect x="863.5" y="1928.5" width="201.0" height="40.0" fill="#fff" stroke="#ff0000"/><text x="873.8" y="1944.4" textLength="180.5" lengthAdjust="spacingAndGlyphs">net.sf.gridarta.mainactions.</text><text x="888.4" y="1958.8" textLength="151.2" lengthAdjust="spacingAndGlyphs">MainActions.doReplace</text><rect x="1213.5" y="5.5" width="214.0" height="40.0" fill="#fff" stroke="#000000"/><text x="1223.4" y="21.4" textLength="194.1" lengthAdjust="spacingAndGlyphs">net.sf.gridarta.gui.copybuffer.</text><text x="1266.5" y="35.8" textLength="108.1" lengthAdjust="spacingAndGlyphs">CopyBuffer.clear</text><rect x="1213.5" y="123.5" width="214.0" height="40.0" fill="#fff" stroke="#000000"/><text x="1223.4" y="139.4" textLength="194.1" lengthAdjust="spacingAndGlyphs">net.sf.gridarta.gui.copybuffer.</text><text x="1267.0" y="153.8" textLength="107.1" lengthAdjust="spacingAndGlyphs">CopyBuffer.copy</text><rect x="1213.5" y="240.5" width="214.0" height="40.0" fill="#fff" stroke="#000000"/><text x="1223.4" y="256.4" textLength="194.1" lengthAdjust="spacingAndGlyphs">net.sf.gridarta.gui.copybuffer.</text><text x="1272.3" y="270.8" textLength="96.4" lengthAdjust="spacingAndGlyphs">CopyBuffer.cut</text><rect x="1210.5" y="358.5" width="220.0" height="40.0" fill="#fff" stroke="#ff0000"/><text x="1220.4" y="374.4" textLength="200.3" lengthAdjust="spacingAndGlyphs">net.sf.gridarta.model.mapgrid.</text><text x="1262.4" y="388.8" textLength="116.1" lengthAdjust="spacingAndGlyphs">MapGrid.unSelect</text><rect x="1544.5" y="328.5" width="220.0" height="40.0" fill="#fff" stroke="#ff0000"/><text x="1554.4" y="344.4" textLength="200.3" lengthAdjust="spacingAndGlyphs">net.sf.gridarta.model.mapgrid.</text><text x="1569.2" y="358.8" textLength="170.6" lengthAdjust="spacingAndGlyphs">MapGrid.beginTransaction</text><rect x="1544.5" y="431.5" width="220.0" height="40.0" fill="#fff" stroke="#ff0000"/><text x="1554.4" y="447.4" textLength="200.3" lengthAdjust="spacingAndGlyphs">net.sf.gridarta.model.mapgrid.</text><text x="1575.2" y="461.8" textLength="158.7" lengthAdjust="spacingAndGlyphs">MapGrid.endTransaction</text><rect x="1210.5" y="525.5" width="220.0" height="40.0" fill="#fff" stroke="#ff0000"/><text x="1220.4" y="541.4" textLength="200.3" lengthAdjust="spacingAndGlyphs">net.sf.gridarta.model.mapgrid.</text><text x="1271.5" y="555.8" textLength="98.1" lengthAdjust="spacingAndGlyphs">MapGrid.select</text><rect x="1202.5" y="591.5" width="236.0" height="40.0" fill="#fff" stroke="#000000"/><text x="1212.8" y="607.4" textLength="215.4" lengthAdjust="spacingAndGlyphs">net.sf.gridarta.model.mapmodel.</text><text x="1224.4" y="621.8" textLength="192.2" lengthAdjust="spacingAndGlyphs">MapModel.getMapArchObject</text><rect x="1202.5" y="656.5" width="236.0" height="40.0" fill="#fff" stroke="#000000"/><text x="1212.8" y="672.4" textLength="215.4" lengthAdjust="spacingAndGlyphs">net.sf.gridarta.model.mapmodel.</text><text x="1237.4" y="686.8" textLength="166.1" lengthAdjust="spacingAndGlyphs">MapModel.getMapSquare</text><rect x="1202.5" y="722.5" width="237.0" height="40.0" fill="#fff" stroke="#000000"/><text x="1212.5" y="738.4" textLength="217.1" lengthAdjust="spacingAndGlyphs">net.sf.gridarta.model.baseobject.</text><text x="1220.5" y="752.8" textLength="201.0" lengthAdjust="spacingAndGlyphs">GameObjectContainer.isEmpty</text><rect x="1188.5" y="787.5" width="264.0" height="40.0" fill="#fff" stroke="#000000"/><text x="1198.7" y="803.4" textLength="243.5" lengthAdjust="spacingAndGlyphs">net.sf.gridarta.model.maparchobject.</text><text x="1231.4" y="817.8" textLength="178.3" lengthAdjust="spacingAndGlyphs">MapArchObject.isPointValid</text><rect x="1202.5" y="904.5" width="237.0" height="40.0" fill="#fff" stroke="#000000"/><text x="1212.9" y="920.4" textLength="216.3" lengthAdjust="spacingAndGlyphs">net.sf.gridarta.gui.map.mapview.</text><text x="1242.0" y="934.8" textLength="157.9" lengthAdjust="spacingAndGlyphs">MapView.getMapControl</text><rect x="1200.5" y="970.5" width="240.0" height="40.0" fill="#fff" stroke="#000000"/><text x="1210.5" y="986.4" textLength="220.0" lengthAdjust="spacingAndGlyphs">net.sf.gridarta.model.mapcontrol.</text><text x="1236.8" y="1000.8" textLength="167.4" lengthAdjust="spacingAndGlyphs">MapControl.getMapModel</text><rect x="1202.5" y="1035.5" width="237.0" height="40.0" fill="#fff" stroke="#000000"/><text x="1212.9" y="1051.4" textLength="216.3" lengthAdjust="spacingAndGlyphs">net.sf.gridarta.gui.map.mapview.</text><text x="1224.7" y="1065.8" textLength="192.6" lengthAdjust="spacingAndGlyphs">MapView.getSelectedSquares</text><rect x="1536.5" y="970.5" width="236.0" height="40.0" fill="#fff" stroke="#000000"/><text x="1546.4" y="986.4" textLength="216.3" lengthAdjust="spacingAndGlyphs">net.sf.gridarta.gui.map.mapview.</text><text x="1585.4" y="1000.8" textLength="138.1" lengthAdjust="spacingAndGlyphs">MapView.getMapGrid</text><rect x="1220.5" y="1172.5" width="201.0" height="40.0" fill="#fff" stroke="#ff0000"/><text x="1230.8" y="1188.4" textLength="180.5" lengthAdjust="spacingAndGlyphs">net.sf.gridarta.mainactions.</text><text x="1238.5" y="1202.8" textLength="164.9" lengthAdjust="spacingAndGlyphs">MainActions.getSelection</text><rect x="1178.5" y="1237.5" width="284.0" height="40.0" fill="#fff" stroke="#000000"/><text x="1188.7" y="1253.4" textLength="215.4" lengthAdjust="spacingAndGlyphs">net.sf.gridarta.model.mapmodel.</text><text x="1188.7" y="1267.8" textLength="263.6" lengthAdjust="spacingAndGlyphs">InsertionModeSet.getAutoInsertionMode</text><rect x="1153.5" y="1303.5" width="335.0" height="40.0" fill="#fff" stroke="#000000"/><text x="1164.0" y="1319.4" textLength="215.4" lengthAdjust="spacingAndGlyphs">net.sf.gridarta.model.mapmodel.</text><text x="1164.0" y="1333.8" textLength="313.9" lengthAdjust="spacingAndGlyphs">InsertionModeSet.getBottommostInsertionMode</text><rect x="1165.5" y="1368.5" width="309.0" height="40.0" fill="#fff" stroke="#000000"/><text x="1176.0" y="1384.4" textLength="215.4" lengthAdjust="spacingAndGlyphs">net.sf.gridarta.model.mapmodel.</text><text x="1176.0" y="1398.8" textLength="288.0" lengthAdjust="spacingAndGlyphs">InsertionModeSet.getTopmostInsertionMode</text><rect x="1220.5" y="1434.5" width="201.0" height="40.0" fill="#fff" stroke="#ff0000"/><text x="1230.8" y="1450.4" textLength="180.5" lengthAdjust="spacingAndGlyphs">net.sf.gridarta.mainactions.</text><text x="1271.7" y="1464.8" textLength="98.7" lengthAdjust="spacingAndGlyphs">MainActions.fill</text><rect x="1210.5" y="1508.5" width="220.0" height="40.0" fill="#fff" stroke="#ff0000"/><text x="1221.4" y="1524.4" textLength="180.5" lengthAdjust="spacingAndGlyphs">net.sf.gridarta.mainactions.</text><text x="1221.4" y="1538.8" textLength="198.2" lengthAdjust="spacingAndGlyphs">MainActions.doInvertSelection</text><rect x="1220.5" y="1592.5" width="201.0" height="40.0" fill="#fff" stroke="#ff0000"/><text x="1230.8" y="1608.4" textLength="180.5" lengthAdjust="spacingAndGlyphs">net.sf.gridarta.mainactions.</text><text x="1243.0" y="1622.8" textLength="156.0" lengthAdjust="spacingAndGlyphs">MainActions.doSelectAll</text><rect x="1206.5" y="1667.5" width="228.0" height="40.0" fill="#fff" stroke="#000000"/><text x="1218.4" y="1683.4" textLength="194.0" lengthAdjust="spacingAndGlyphs">net.sf.gridarta.gui.dialog.find.</text><text x="1218.4" y="1697.8" textLength="204.2" lengthAdjust="spacingAndGlyphs">FindDialogManager.showDialog</text><rect x="1213.5" y="1732.5" width="214.0" height="40.0" fill="#fff" stroke="#000000"/><text x="1223.5" y="1748.4" textLength="194.0" lengthAdjust="spacingAndGlyphs">net.sf.gridarta.gui.dialog.find.</text><text x="1228.5" y="1762.8" textLength="184.0" lengthAdjust="spacingAndGlyphs">FindDialogManager.findNext</text></g>
</svg></body></html>
